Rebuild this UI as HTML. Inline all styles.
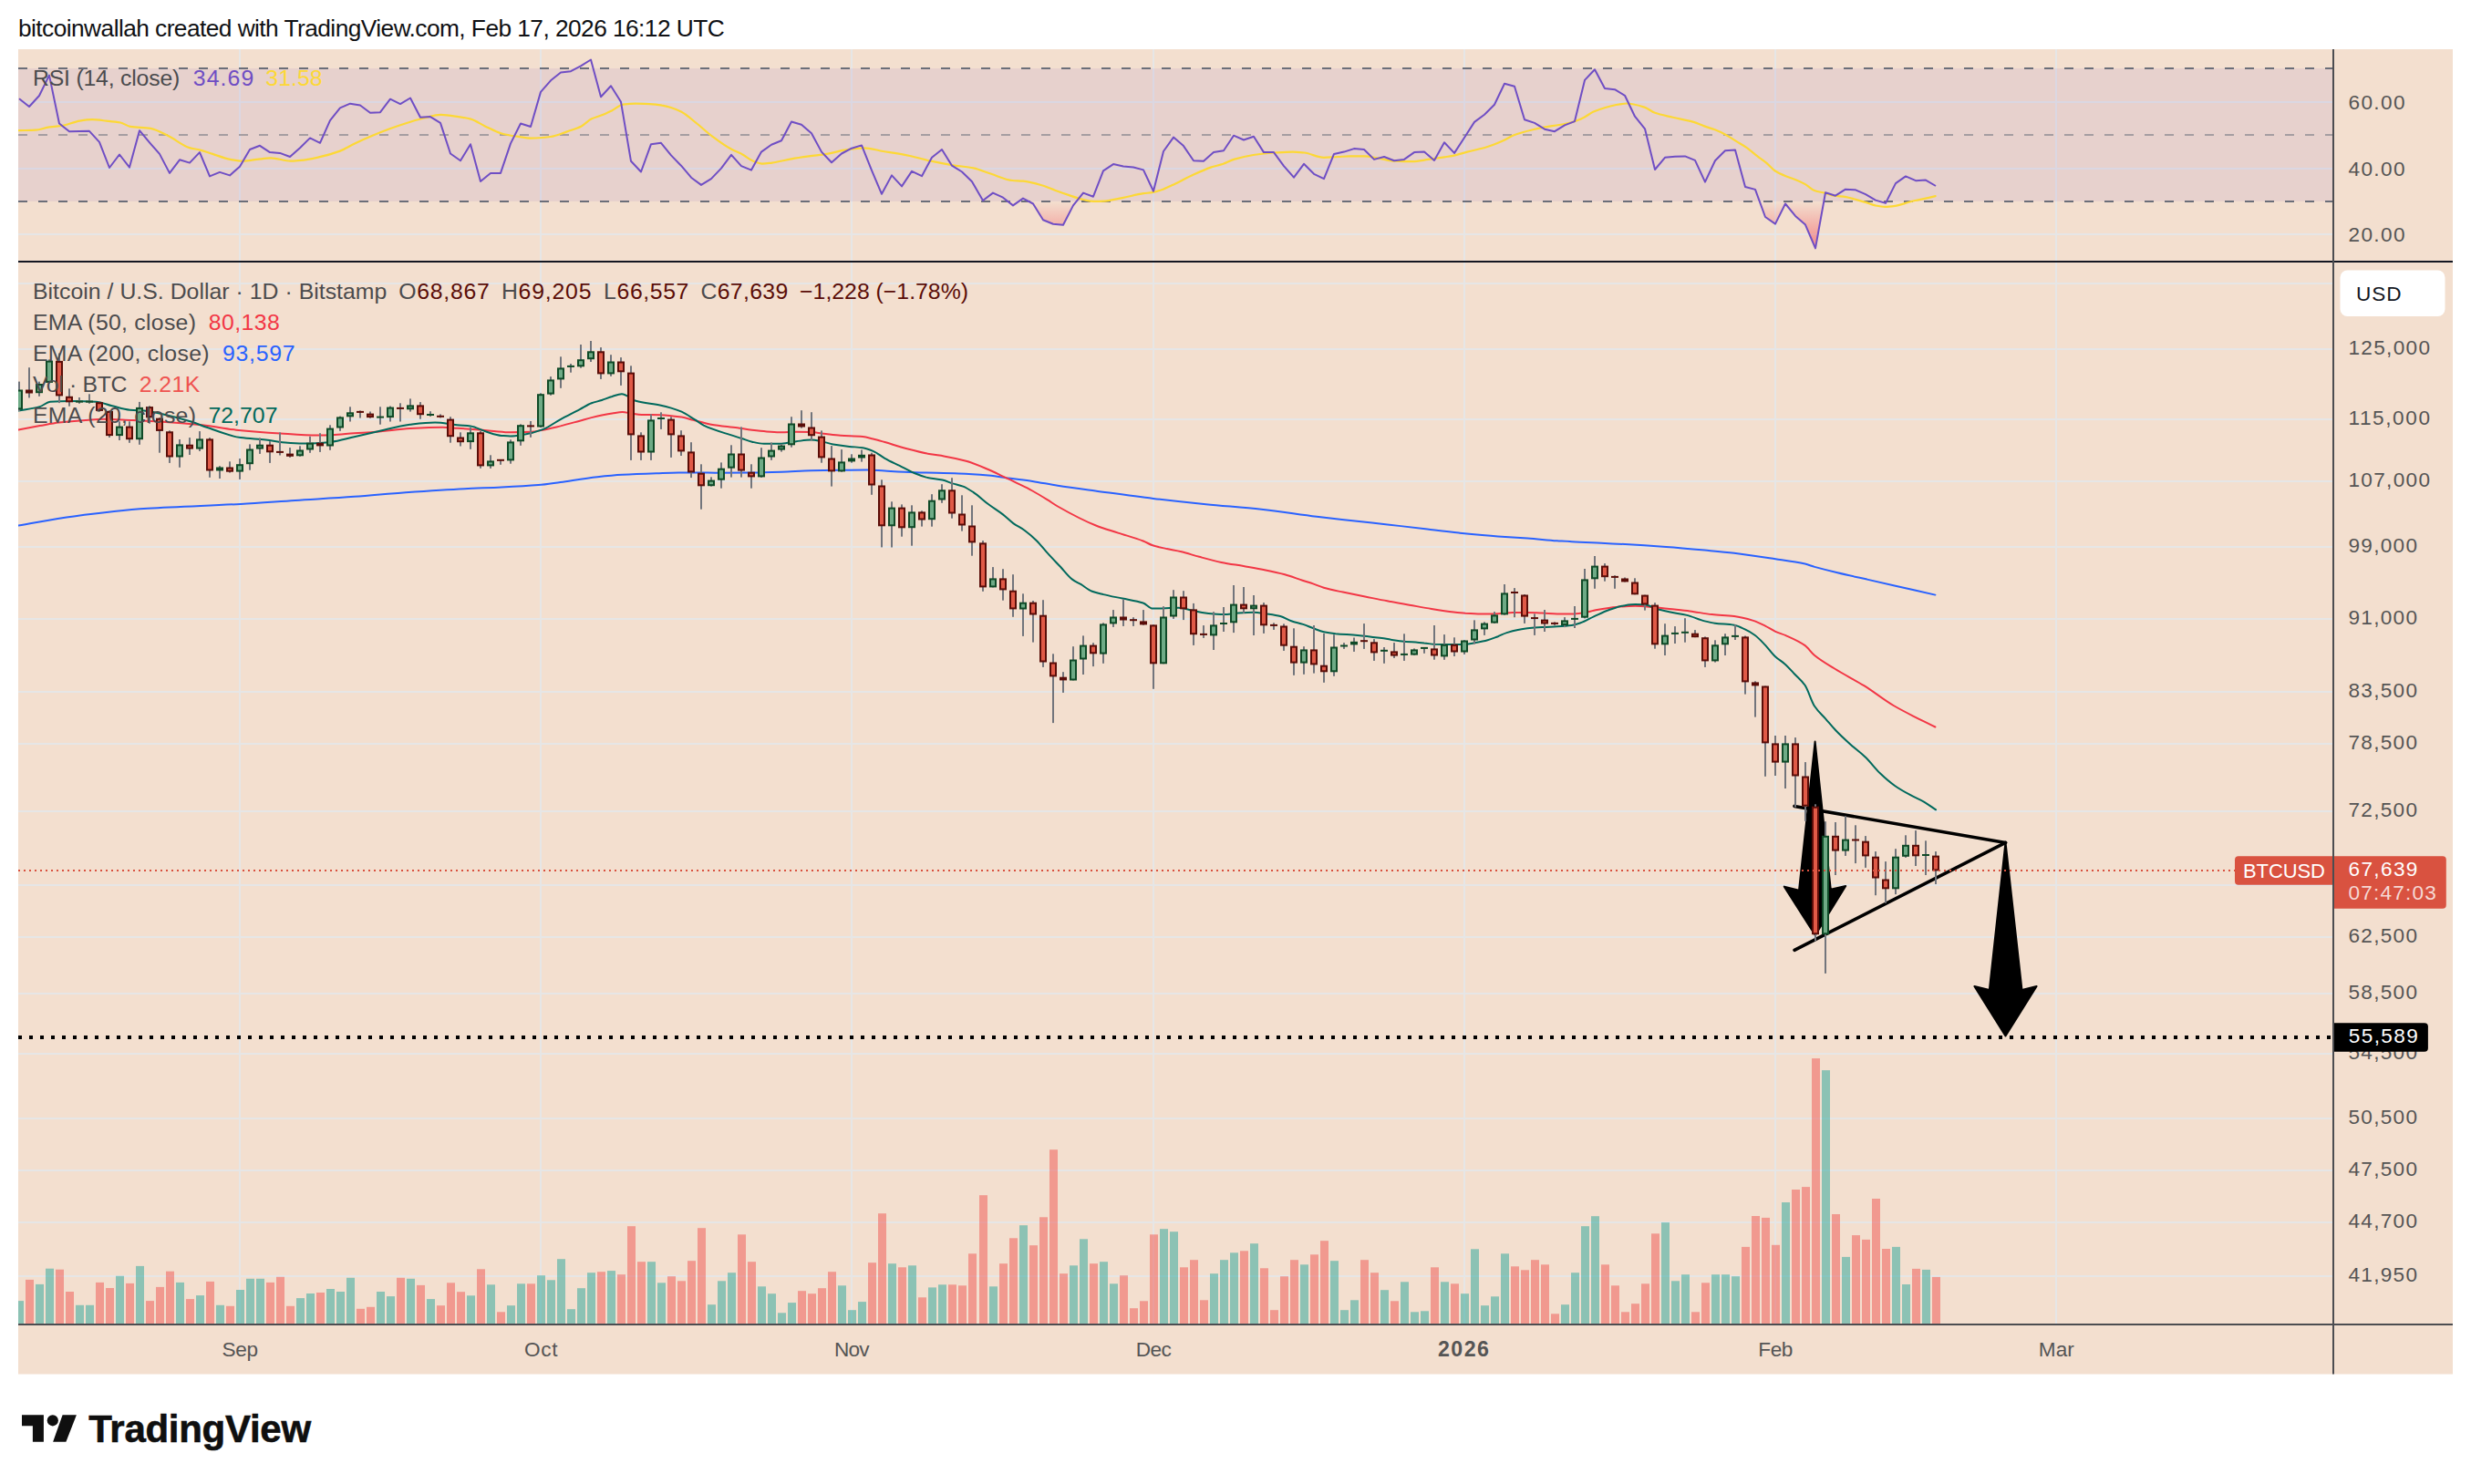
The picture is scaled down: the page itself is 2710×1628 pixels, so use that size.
<!DOCTYPE html>
<html><head><meta charset="utf-8"><title>BTCUSD chart</title><style>html,body{margin:0;padding:0;background:#fff;overflow:hidden}svg{display:block}</style></head><body>
<svg width="2710" height="1628" viewBox="0 0 2710 1628" font-family="'Liberation Sans', Arial, sans-serif">
<rect x="0" y="0" width="2710" height="1628" fill="#ffffff"/>
<rect x="20" y="54" width="2670" height="1453.5" fill="#f3dfcf"/>
<defs><clipPath id="cp"><rect x="20" y="288" width="2538" height="1164"/></clipPath><clipPath id="cpr"><rect x="20" y="54" width="2538" height="232"/></clipPath><linearGradient id="os" x1="0" y1="220.7" x2="0" y2="262" gradientUnits="userSpaceOnUse"><stop offset="0" stop-color="#f23645" stop-opacity="0"/><stop offset="1" stop-color="#f23645" stop-opacity="0.42"/></linearGradient></defs>
<g fill="#e6e6e6"><rect x="262" y="54" width="2" height="1398"/><rect x="592" y="54" width="2" height="1398"/><rect x="933" y="54" width="2" height="1398"/><rect x="1264" y="54" width="2" height="1398"/><rect x="1605" y="54" width="2" height="1398"/><rect x="1946" y="54" width="2" height="1398"/><rect x="2254" y="54" width="2" height="1398"/><rect x="20" y="111" width="2538" height="2"/><rect x="20" y="184" width="2538" height="2"/><rect x="20" y="256" width="2538" height="2"/><rect x="20" y="310" width="2538" height="2"/><rect x="20" y="382" width="2538" height="2"/><rect x="20" y="459" width="2538" height="2"/><rect x="20" y="527" width="2538" height="2"/><rect x="20" y="599" width="2538" height="2"/><rect x="20" y="678" width="2538" height="2"/><rect x="20" y="758" width="2538" height="2"/><rect x="20" y="815" width="2538" height="2"/><rect x="20" y="889" width="2538" height="2"/><rect x="20" y="970" width="2538" height="2"/><rect x="20" y="1027" width="2538" height="2"/><rect x="20" y="1089" width="2538" height="2"/><rect x="20" y="1155" width="2538" height="2"/><rect x="20" y="1226" width="2538" height="2"/><rect x="20" y="1283" width="2538" height="2"/><rect x="20" y="1340" width="2538" height="2"/><rect x="20" y="1399" width="2538" height="2"/></g>
<rect x="20" y="75" width="2538" height="146" fill="#7e57c2" fill-opacity="0.1"/>
<line x1="20" y1="75" x2="2558" y2="75" stroke="#6b6e79" stroke-width="2" stroke-dasharray="10 12"/>
<line x1="20" y1="148" x2="2558" y2="148" stroke="#a59da1" stroke-width="2" stroke-dasharray="10 12"/>
<line x1="20" y1="221" x2="2558" y2="221" stroke="#6b6e79" stroke-width="2" stroke-dasharray="10 12"/>
<g clip-path="url(#cpr)"><clipPath id="below"><rect x="20" y="220.7" width="2600" height="70"/></clipPath><path d="M21,108.3 L32,117.0 L43,105.0 L54,82.6 L65,135.5 L76,144.2 L87,144.0 L98,143.8 L109,155.9 L120,184.0 L131,169.5 L142,183.6 L153,143.2 L164,156.3 L175,168.9 L186,189.9 L197,175.3 L208,178.6 L219,167.1 L230,193.4 L241,188.9 L252,192.4 L263,182.7 L274,164.0 L285,159.8 L296,167.1 L307,167.9 L318,172.0 L329,162.3 L340,151.4 L351,156.8 L362,132.2 L373,118.4 L384,113.7 L395,115.5 L406,123.8 L417,123.2 L428,108.7 L439,114.1 L450,107.5 L461,128.7 L472,128.1 L483,134.9 L494,168.5 L505,176.3 L516,158.2 L527,199.0 L538,189.9 L549,189.9 L560,157.4 L571,135.5 L582,139.0 L593,100.9 L604,88.3 L615,79.5 L626,78.2 L637,72.3 L648,65.5 L659,106.3 L670,94.3 L681,111.8 L692,176.8 L703,188.5 L714,158.2 L725,156.8 L736,170.4 L747,181.7 L758,194.7 L769,202.9 L780,196.1 L791,184.6 L802,169.9 L813,182.1 L824,186.6 L835,166.6 L846,158.8 L857,154.3 L868,133.5 L879,136.8 L890,146.2 L901,166.6 L912,178.2 L923,168.5 L934,162.7 L945,159.4 L956,186.9 L967,212.8 L978,192.4 L989,204.4 L1000,187.9 L1011,193.2 L1022,172.8 L1033,164.0 L1044,181.7 L1055,188.5 L1066,199.2 L1078,220.0 L1089,211.6 L1100,216.7 L1111,225.4 L1122,217.6 L1133,223.5 L1144,241.3 L1155,245.8 L1166,246.8 L1177,225.4 L1188,211.6 L1199,215.7 L1210,187.3 L1221,180.1 L1232,182.5 L1243,183.5 L1254,186.4 L1265,209.7 L1276,166.0 L1287,150.6 L1298,160.1 L1309,176.3 L1320,176.8 L1331,167.1 L1342,165.2 L1353,148.7 L1364,153.5 L1375,149.7 L1386,167.1 L1397,167.1 L1408,182.1 L1419,194.7 L1430,179.8 L1441,190.8 L1452,196.1 L1463,168.9 L1474,166.6 L1485,163.1 L1496,164.0 L1507,174.9 L1518,172.0 L1529,176.3 L1540,174.9 L1551,167.1 L1562,166.6 L1573,175.9 L1584,156.3 L1595,167.9 L1606,151.0 L1617,133.9 L1628,125.8 L1639,114.7 L1650,91.8 L1661,94.7 L1672,131.2 L1683,134.9 L1694,141.7 L1705,144.2 L1716,137.4 L1727,133.1 L1738,87.9 L1749,76.2 L1760,97.0 L1771,98.2 L1782,104.8 L1793,127.7 L1804,141.3 L1815,186.0 L1826,172.8 L1837,171.8 L1848,171.4 L1859,175.9 L1870,199.6 L1881,176.3 L1892,165.2 L1903,164.6 L1914,205.0 L1925,207.9 L1936,238.0 L1947,245.6 L1958,223.5 L1969,236.9 L1980,246.6 L1991,272.4 L2002,211.2 L2013,214.7 L2024,207.7 L2035,208.3 L2046,213.2 L2057,219.6 L2068,222.9 L2079,201.1 L2090,193.4 L2101,198.2 L2112,197.6 L2123,204.0 L2123,220.7 L21,220.7 Z" fill="url(#os)" clip-path="url(#below)"/>
<path d="M20.4,143.2 C26.5,143.0 32.7,143.0 38.9,142.7 C44.0,142.4 49.2,140.1 54.4,139.4 C58.9,138.7 63.5,138.6 68.0,138.0 C74.5,137.1 80.9,133.5 87.4,132.6 C91.9,131.9 96.5,131.2 101.0,131.2 C106.2,131.2 111.4,132.0 116.6,132.6 C121.7,133.1 126.9,133.5 132.1,134.5 C135.7,135.2 139.2,138.2 142.8,138.8 C150.2,140.0 157.7,139.7 165.1,140.9 C171.6,141.9 178.1,146.0 184.5,149.1 C192.3,152.8 200.1,159.8 207.9,162.1 C211.7,163.2 215.6,163.6 219.5,164.6 C224.0,165.8 228.6,167.5 233.1,168.9 C239.6,170.9 246.1,173.8 252.5,174.9 C257.1,175.7 261.6,176.7 266.1,176.7 C271.3,176.7 276.5,175.5 281.7,174.9 C286.8,174.4 292.0,173.4 297.2,173.4 C304.3,173.4 311.5,176.7 318.6,176.7 C322.5,176.7 326.3,176.2 330.2,175.9 C336.7,175.3 343.2,173.8 349.7,172.4 C357.4,170.7 365.2,168.5 373.0,165.6 C378.1,163.6 383.3,160.3 388.5,157.8 C395.0,154.7 401.5,151.8 407.9,149.1 C414.4,146.3 420.9,143.7 427.4,141.3 C435.1,138.5 442.9,135.9 450.7,133.5 C455.8,132.0 461.0,130.5 466.2,129.3 C471.9,127.9 477.6,125.8 483.3,125.8 C489.8,125.8 496.3,127.1 502.7,128.1 C507.3,128.8 511.8,129.4 516.3,130.6 C521.5,132.0 526.7,135.9 531.9,138.4 C537.7,141.1 543.5,144.5 549.4,146.2 C555.2,147.8 561.0,148.8 566.8,149.7 C572.0,150.4 577.2,151.6 582.4,151.6 C589.5,151.6 596.6,150.9 603.7,150.0 C609.6,149.3 615.4,146.6 621.2,144.6 C626.7,142.7 632.2,141.2 637.7,138.4 C641.3,136.6 644.9,132.4 648.4,130.6 C652.3,128.7 656.2,127.9 660.1,126.3 C663.6,124.9 667.2,123.2 670.8,121.5 C675.0,119.4 679.2,115.2 683.4,114.7 C687.9,114.1 692.5,113.7 697.0,113.7 C702.2,113.7 707.3,113.9 712.5,114.1 C717.1,114.3 721.6,114.9 726.1,115.7 C729.4,116.2 732.6,117.0 735.8,118.0 C739.7,119.2 743.6,120.8 747.5,122.8 C752.7,125.6 757.9,130.4 763.0,134.5 C768.9,139.1 774.7,144.7 780.5,149.1 C787.6,154.4 794.8,159.9 801.9,163.6 C805.8,165.7 809.7,166.8 813.5,168.9 C817.4,170.9 821.3,174.7 825.2,176.3 C828.8,177.7 832.3,179.6 835.9,179.6 C839.4,179.6 843.0,179.0 846.6,178.6 C853.7,177.7 860.8,175.5 867.9,174.3 C874.4,173.2 880.9,172.3 887.4,171.4 C893.8,170.5 900.3,169.9 906.8,168.9 C913.3,167.8 919.7,165.6 926.2,164.6 C933.2,163.6 940.2,162.3 947.2,162.3 C954.3,162.3 961.4,164.7 968.6,166.0 C978.3,167.6 988.0,169.0 997.7,171.0 C1005.5,172.6 1013.2,175.0 1021.0,176.7 C1028.8,178.3 1036.6,179.9 1044.3,181.1 C1052.1,182.4 1059.9,182.9 1067.6,184.4 C1074.1,185.7 1080.6,188.8 1087.1,190.8 C1094.8,193.3 1102.6,197.4 1110.4,198.0 C1114.3,198.3 1118.1,198.3 1122.0,198.6 C1129.1,199.2 1136.3,201.4 1143.4,203.5 C1147.9,204.8 1152.5,207.0 1157.0,208.7 C1162.2,210.6 1167.3,212.4 1172.5,214.1 C1177.7,215.9 1182.9,217.9 1188.1,219.0 C1192.0,219.8 1195.8,220.9 1199.7,220.9 C1203.6,220.9 1207.5,220.8 1211.4,220.6 C1217.9,220.2 1224.3,218.3 1230.8,217.1 C1238.6,215.6 1246.3,213.4 1254.1,212.2 C1257.7,211.7 1261.2,211.5 1264.8,210.8 C1268.4,210.2 1271.9,209.0 1275.5,207.7 C1280.0,206.1 1284.5,203.7 1289.1,201.5 C1295.6,198.4 1302.0,194.8 1308.5,191.8 C1315.0,188.8 1321.5,185.8 1327.9,183.6 C1332.5,182.1 1337.0,181.3 1341.5,179.8 C1345.4,178.4 1349.3,176.1 1353.2,174.9 C1360.3,172.7 1367.4,171.2 1374.6,170.0 C1378.4,169.4 1382.3,168.9 1386.2,168.5 C1390.0,168.1 1393.7,167.8 1397.5,167.5 C1404.3,167.1 1411.1,166.6 1417.9,166.6 C1422.1,166.6 1426.3,167.1 1430.5,167.5 C1437.6,168.3 1444.8,172.8 1451.9,172.8 C1457.1,172.8 1462.2,172.2 1467.4,172.0 C1471.9,171.8 1476.5,171.4 1481.0,171.4 C1486.2,171.4 1491.4,171.4 1496.6,171.4 C1501.7,171.4 1506.9,172.9 1512.1,173.7 C1517.9,174.7 1523.7,176.4 1529.6,176.7 C1536.1,177.0 1542.5,177.2 1549.0,177.2 C1554.8,177.2 1560.7,175.7 1566.5,174.9 C1572.3,174.1 1578.1,173.3 1584.0,172.4 C1587.2,171.9 1590.4,171.5 1593.7,170.8 C1598.9,169.8 1604.0,167.9 1609.2,166.6 C1616.3,164.7 1623.5,163.5 1630.6,161.3 C1636.4,159.5 1642.2,157.1 1648.1,154.5 C1652.0,152.8 1655.8,150.0 1659.7,148.5 C1666.8,145.8 1674.0,144.0 1681.1,142.3 C1685.6,141.2 1690.2,140.2 1694.7,139.4 C1699.9,138.4 1705.1,138.0 1710.2,137.0 C1715.4,136.1 1720.6,135.1 1725.8,133.5 C1729.7,132.4 1733.5,130.6 1737.4,128.7 C1740.7,127.1 1743.9,124.3 1747.1,122.8 C1751.7,120.8 1756.2,119.3 1760.7,118.0 C1764.0,117.0 1767.2,116.1 1770.4,115.5 C1775.0,114.6 1779.5,113.5 1784.0,113.5 C1790.5,113.5 1797.0,115.6 1803.5,117.6 C1807.4,118.8 1811.2,122.5 1815.1,123.8 C1821.6,126.1 1828.1,127.1 1834.6,128.7 C1842.2,130.5 1849.8,131.7 1857.5,133.9 C1861.4,135.1 1865.3,137.0 1869.1,138.4 C1873.0,139.8 1876.9,140.8 1880.8,142.3 C1884.7,143.8 1888.6,145.6 1892.4,147.7 C1896.3,149.8 1900.2,152.5 1904.1,154.9 C1908.0,157.3 1911.9,159.4 1915.8,162.1 C1919.6,164.8 1923.5,168.4 1927.4,171.4 C1930.7,173.9 1933.9,175.9 1937.1,178.6 C1940.4,181.3 1943.6,185.5 1946.8,187.5 C1950.7,190.0 1954.6,191.6 1958.5,193.2 C1961.7,194.5 1965.0,195.4 1968.2,196.7 C1972.1,198.2 1976.0,200.0 1979.9,202.1 C1983.4,204.1 1987.0,208.1 1990.5,209.3 C1994.1,210.5 1997.7,210.7 2001.2,211.6 C2004.5,212.5 2007.7,214.2 2010.9,214.7 C2015.5,215.4 2020.0,215.4 2024.5,216.1 C2027.8,216.6 2031.0,217.7 2034.3,218.6 C2038.1,219.7 2042.0,220.7 2045.9,221.9 C2049.5,223.0 2053.0,224.8 2056.6,225.4 C2060.2,226.1 2063.7,226.8 2067.3,226.8 C2071.2,226.8 2075.0,226.3 2078.9,225.8 C2082.5,225.3 2086.1,223.9 2089.6,222.9 C2093.2,221.9 2096.7,220.8 2100.3,220.0 C2104.2,219.1 2108.1,218.5 2112.0,217.6 C2115.5,216.9 2119.1,216.0 2122.6,215.1" fill="none" stroke="#fdd835" stroke-width="2.2" stroke-linejoin="round" stroke-linecap="round"/>
<path d="M21,108.3 L32,117.0 L43,105.0 L54,82.6 L65,135.5 L76,144.2 L87,144.0 L98,143.8 L109,155.9 L120,184.0 L131,169.5 L142,183.6 L153,143.2 L164,156.3 L175,168.9 L186,189.9 L197,175.3 L208,178.6 L219,167.1 L230,193.4 L241,188.9 L252,192.4 L263,182.7 L274,164.0 L285,159.8 L296,167.1 L307,167.9 L318,172.0 L329,162.3 L340,151.4 L351,156.8 L362,132.2 L373,118.4 L384,113.7 L395,115.5 L406,123.8 L417,123.2 L428,108.7 L439,114.1 L450,107.5 L461,128.7 L472,128.1 L483,134.9 L494,168.5 L505,176.3 L516,158.2 L527,199.0 L538,189.9 L549,189.9 L560,157.4 L571,135.5 L582,139.0 L593,100.9 L604,88.3 L615,79.5 L626,78.2 L637,72.3 L648,65.5 L659,106.3 L670,94.3 L681,111.8 L692,176.8 L703,188.5 L714,158.2 L725,156.8 L736,170.4 L747,181.7 L758,194.7 L769,202.9 L780,196.1 L791,184.6 L802,169.9 L813,182.1 L824,186.6 L835,166.6 L846,158.8 L857,154.3 L868,133.5 L879,136.8 L890,146.2 L901,166.6 L912,178.2 L923,168.5 L934,162.7 L945,159.4 L956,186.9 L967,212.8 L978,192.4 L989,204.4 L1000,187.9 L1011,193.2 L1022,172.8 L1033,164.0 L1044,181.7 L1055,188.5 L1066,199.2 L1078,220.0 L1089,211.6 L1100,216.7 L1111,225.4 L1122,217.6 L1133,223.5 L1144,241.3 L1155,245.8 L1166,246.8 L1177,225.4 L1188,211.6 L1199,215.7 L1210,187.3 L1221,180.1 L1232,182.5 L1243,183.5 L1254,186.4 L1265,209.7 L1276,166.0 L1287,150.6 L1298,160.1 L1309,176.3 L1320,176.8 L1331,167.1 L1342,165.2 L1353,148.7 L1364,153.5 L1375,149.7 L1386,167.1 L1397,167.1 L1408,182.1 L1419,194.7 L1430,179.8 L1441,190.8 L1452,196.1 L1463,168.9 L1474,166.6 L1485,163.1 L1496,164.0 L1507,174.9 L1518,172.0 L1529,176.3 L1540,174.9 L1551,167.1 L1562,166.6 L1573,175.9 L1584,156.3 L1595,167.9 L1606,151.0 L1617,133.9 L1628,125.8 L1639,114.7 L1650,91.8 L1661,94.7 L1672,131.2 L1683,134.9 L1694,141.7 L1705,144.2 L1716,137.4 L1727,133.1 L1738,87.9 L1749,76.2 L1760,97.0 L1771,98.2 L1782,104.8 L1793,127.7 L1804,141.3 L1815,186.0 L1826,172.8 L1837,171.8 L1848,171.4 L1859,175.9 L1870,199.6 L1881,176.3 L1892,165.2 L1903,164.6 L1914,205.0 L1925,207.9 L1936,238.0 L1947,245.6 L1958,223.5 L1969,236.9 L1980,246.6 L1991,272.4 L2002,211.2 L2013,214.7 L2024,207.7 L2035,208.3 L2046,213.2 L2057,219.6 L2068,222.9 L2079,201.1 L2090,193.4 L2101,198.2 L2112,197.6 L2123,204.0" fill="none" stroke="#6f4ec4" stroke-width="2" stroke-linejoin="round"/></g>
<g clip-path="url(#cp)">
<g fill="#26a69a" fill-opacity="0.5"><rect x="17" y="1427.1" width="9" height="24.9"/><rect x="39" y="1408.9" width="9" height="43.1"/><rect x="50" y="1391.7" width="9" height="60.3"/><rect x="83" y="1431.8" width="9" height="20.2"/><rect x="94" y="1431.8" width="9" height="20.2"/><rect x="127" y="1399.8" width="9" height="52.2"/><rect x="149" y="1388.9" width="9" height="63.1"/><rect x="193" y="1406.9" width="9" height="45.1"/><rect x="215" y="1421.1" width="9" height="30.9"/><rect x="237" y="1431.8" width="9" height="20.2"/><rect x="259" y="1415.0" width="9" height="37.0"/><rect x="270" y="1402.8" width="9" height="49.2"/><rect x="281" y="1402.8" width="9" height="49.2"/><rect x="325" y="1424.1" width="9" height="27.9"/><rect x="336" y="1419.0" width="9" height="33.0"/><rect x="358" y="1414.0" width="9" height="38.0"/><rect x="369" y="1417.0" width="9" height="35.0"/><rect x="380" y="1401.8" width="9" height="50.2"/><rect x="413" y="1417.0" width="9" height="35.0"/><rect x="424" y="1422.1" width="9" height="29.9"/><rect x="446" y="1402.8" width="9" height="49.2"/><rect x="468" y="1425.1" width="9" height="26.9"/><rect x="512" y="1421.3" width="9" height="30.7"/><rect x="534" y="1409.3" width="9" height="42.7"/><rect x="556" y="1432.2" width="9" height="19.8"/><rect x="567" y="1408.3" width="9" height="43.7"/><rect x="589" y="1399.2" width="9" height="52.8"/><rect x="600" y="1404.3" width="9" height="47.7"/><rect x="611" y="1381.2" width="9" height="70.8"/><rect x="622" y="1436.2" width="9" height="15.8"/><rect x="633" y="1413.2" width="9" height="38.8"/><rect x="644" y="1396.2" width="9" height="55.8"/><rect x="666" y="1394.1" width="9" height="57.9"/><rect x="710" y="1384.2" width="9" height="67.8"/><rect x="721" y="1407.3" width="9" height="44.7"/><rect x="776" y="1431.2" width="9" height="20.8"/><rect x="787" y="1405.3" width="9" height="46.7"/><rect x="798" y="1396.2" width="9" height="55.8"/><rect x="831" y="1411.3" width="9" height="40.7"/><rect x="842" y="1419.2" width="9" height="32.8"/><rect x="853" y="1440.3" width="9" height="11.7"/><rect x="864" y="1429.1" width="9" height="22.9"/><rect x="919" y="1410.3" width="9" height="41.7"/><rect x="930" y="1437.2" width="9" height="14.8"/><rect x="941" y="1428.1" width="9" height="23.9"/><rect x="974" y="1386.2" width="9" height="65.8"/><rect x="996" y="1388.3" width="9" height="63.7"/><rect x="1018" y="1412.4" width="9" height="39.6"/><rect x="1029" y="1409.3" width="9" height="42.7"/><rect x="1085" y="1411.3" width="9" height="40.7"/><rect x="1118" y="1344.2" width="9" height="107.8"/><rect x="1173" y="1388.3" width="9" height="63.7"/><rect x="1184" y="1359.3" width="9" height="92.7"/><rect x="1206" y="1384.2" width="9" height="67.8"/><rect x="1217" y="1408.3" width="9" height="43.7"/><rect x="1272" y="1348.2" width="9" height="103.8"/><rect x="1283" y="1351.2" width="9" height="100.8"/><rect x="1327" y="1397.2" width="9" height="54.8"/><rect x="1338" y="1382.2" width="9" height="69.8"/><rect x="1349" y="1374.3" width="9" height="77.7"/><rect x="1371" y="1364.2" width="9" height="87.8"/><rect x="1426" y="1387.3" width="9" height="64.7"/><rect x="1459" y="1383.2" width="9" height="68.8"/><rect x="1470" y="1437.2" width="9" height="14.8"/><rect x="1481" y="1426.3" width="9" height="25.7"/><rect x="1514" y="1415.2" width="9" height="36.8"/><rect x="1536" y="1406.3" width="9" height="45.7"/><rect x="1547" y="1439.3" width="9" height="12.7"/><rect x="1558" y="1438.3" width="9" height="13.7"/><rect x="1580" y="1406.3" width="9" height="45.7"/><rect x="1602" y="1419.2" width="9" height="32.8"/><rect x="1613" y="1370.3" width="9" height="81.7"/><rect x="1624" y="1432.2" width="9" height="19.8"/><rect x="1635" y="1422.3" width="9" height="29.7"/><rect x="1646" y="1375.3" width="9" height="76.7"/><rect x="1712" y="1431.2" width="9" height="20.8"/><rect x="1723" y="1396.2" width="9" height="55.8"/><rect x="1734" y="1345.2" width="9" height="106.8"/><rect x="1745" y="1334.2" width="9" height="117.8"/><rect x="1822" y="1341.1" width="9" height="110.9"/><rect x="1833" y="1405.3" width="9" height="46.7"/><rect x="1844" y="1398.2" width="9" height="53.8"/><rect x="1877" y="1398.2" width="9" height="53.8"/><rect x="1888" y="1398.2" width="9" height="53.8"/><rect x="1899" y="1400.2" width="9" height="51.8"/><rect x="1954" y="1319.0" width="9" height="133.0"/><rect x="1998" y="1174.1" width="9" height="277.9"/><rect x="2020" y="1378.9" width="9" height="73.1"/><rect x="2075" y="1367.9" width="9" height="84.1"/><rect x="2086" y="1409.0" width="9" height="43.0"/><rect x="2108" y="1392.9" width="9" height="59.1"/></g>
<g fill="#ef5350" fill-opacity="0.5"><rect x="28" y="1403.9" width="9" height="48.1"/><rect x="61" y="1392.7" width="9" height="59.3"/><rect x="72" y="1417.0" width="9" height="35.0"/><rect x="105" y="1406.9" width="9" height="45.1"/><rect x="116" y="1413.0" width="9" height="39.0"/><rect x="138" y="1407.9" width="9" height="44.1"/><rect x="160" y="1427.1" width="9" height="24.9"/><rect x="171" y="1411.9" width="9" height="40.1"/><rect x="182" y="1394.7" width="9" height="57.3"/><rect x="204" y="1425.1" width="9" height="26.9"/><rect x="226" y="1405.9" width="9" height="46.1"/><rect x="248" y="1432.8" width="9" height="19.2"/><rect x="292" y="1406.9" width="9" height="45.1"/><rect x="303" y="1400.8" width="9" height="51.2"/><rect x="314" y="1432.8" width="9" height="19.2"/><rect x="347" y="1418.0" width="9" height="34.0"/><rect x="391" y="1435.8" width="9" height="16.2"/><rect x="402" y="1433.8" width="9" height="18.2"/><rect x="435" y="1401.8" width="9" height="50.2"/><rect x="457" y="1409.9" width="9" height="42.1"/><rect x="479" y="1432.2" width="9" height="19.8"/><rect x="490" y="1407.3" width="9" height="44.7"/><rect x="501" y="1417.2" width="9" height="34.8"/><rect x="523" y="1392.3" width="9" height="59.7"/><rect x="545" y="1439.3" width="9" height="12.7"/><rect x="578" y="1408.3" width="9" height="43.7"/><rect x="655" y="1395.2" width="9" height="56.8"/><rect x="677" y="1398.2" width="9" height="53.8"/><rect x="688" y="1345.2" width="9" height="106.8"/><rect x="699" y="1384.2" width="9" height="67.8"/><rect x="732" y="1400.2" width="9" height="51.8"/><rect x="743" y="1405.3" width="9" height="46.7"/><rect x="754" y="1383.2" width="9" height="68.8"/><rect x="765" y="1347.2" width="9" height="104.8"/><rect x="809" y="1354.3" width="9" height="97.7"/><rect x="820" y="1384.2" width="9" height="67.8"/><rect x="875" y="1416.2" width="9" height="35.8"/><rect x="886" y="1419.2" width="9" height="32.8"/><rect x="897" y="1413.2" width="9" height="38.8"/><rect x="908" y="1395.2" width="9" height="56.8"/><rect x="952" y="1385.2" width="9" height="66.8"/><rect x="963" y="1331.2" width="9" height="120.8"/><rect x="985" y="1390.3" width="9" height="61.7"/><rect x="1007" y="1423.3" width="9" height="28.7"/><rect x="1040" y="1409.3" width="9" height="42.7"/><rect x="1051" y="1410.3" width="9" height="41.7"/><rect x="1062" y="1375.3" width="9" height="76.7"/><rect x="1074" y="1311.2" width="9" height="140.8"/><rect x="1096" y="1386.2" width="9" height="65.8"/><rect x="1107" y="1358.3" width="9" height="93.7"/><rect x="1129" y="1366.2" width="9" height="85.8"/><rect x="1140" y="1335.3" width="9" height="116.7"/><rect x="1151" y="1261.2" width="9" height="190.8"/><rect x="1162" y="1397.2" width="9" height="54.8"/><rect x="1195" y="1386.2" width="9" height="65.8"/><rect x="1228" y="1399.2" width="9" height="52.8"/><rect x="1239" y="1435.2" width="9" height="16.8"/><rect x="1250" y="1427.3" width="9" height="24.7"/><rect x="1261" y="1354.3" width="9" height="97.7"/><rect x="1294" y="1390.3" width="9" height="61.7"/><rect x="1305" y="1382.2" width="9" height="69.8"/><rect x="1316" y="1426.3" width="9" height="25.7"/><rect x="1360" y="1372.3" width="9" height="79.7"/><rect x="1382" y="1391.3" width="9" height="60.7"/><rect x="1393" y="1437.2" width="9" height="14.8"/><rect x="1404" y="1400.2" width="9" height="51.8"/><rect x="1415" y="1382.2" width="9" height="69.8"/><rect x="1437" y="1376.3" width="9" height="75.7"/><rect x="1448" y="1361.2" width="9" height="90.8"/><rect x="1492" y="1382.2" width="9" height="69.8"/><rect x="1503" y="1396.2" width="9" height="55.8"/><rect x="1525" y="1427.3" width="9" height="24.7"/><rect x="1569" y="1390.3" width="9" height="61.7"/><rect x="1591" y="1408.3" width="9" height="43.7"/><rect x="1657" y="1389.3" width="9" height="62.7"/><rect x="1668" y="1393.3" width="9" height="58.7"/><rect x="1679" y="1382.2" width="9" height="69.8"/><rect x="1690" y="1387.3" width="9" height="64.7"/><rect x="1701" y="1441.3" width="9" height="10.7"/><rect x="1756" y="1387.3" width="9" height="64.7"/><rect x="1767" y="1410.3" width="9" height="41.7"/><rect x="1778" y="1439.3" width="9" height="12.7"/><rect x="1789" y="1430.2" width="9" height="21.8"/><rect x="1800" y="1408.3" width="9" height="43.7"/><rect x="1811" y="1353.3" width="9" height="98.7"/><rect x="1855" y="1439.3" width="9" height="12.7"/><rect x="1866" y="1407.3" width="9" height="44.7"/><rect x="1910" y="1367.9" width="9" height="84.1"/><rect x="1921" y="1334.0" width="9" height="118.0"/><rect x="1932" y="1335.9" width="9" height="116.1"/><rect x="1943" y="1365.8" width="9" height="86.2"/><rect x="1965" y="1305.0" width="9" height="147.0"/><rect x="1976" y="1302.1" width="9" height="149.9"/><rect x="1987" y="1161.1" width="9" height="290.9"/><rect x="2009" y="1332.0" width="9" height="120.0"/><rect x="2031" y="1355.1" width="9" height="96.9"/><rect x="2042" y="1359.9" width="9" height="92.1"/><rect x="2053" y="1315.0" width="9" height="137.0"/><rect x="2064" y="1370.0" width="9" height="82.0"/><rect x="2097" y="1391.9" width="9" height="60.1"/><rect x="2119" y="1400.9" width="9" height="51.1"/></g>
<path d="M20.2,576.4 C40.5,573.0 60.7,569.0 80.9,566.4 C107.9,562.8 134.9,559.6 161.9,557.8 C195.9,555.5 229.9,554.8 263.9,552.9 C283.8,551.8 303.8,550.2 323.8,548.9 C345.3,547.5 366.9,546.4 388.5,544.8 C407.3,543.5 426.0,541.5 444.8,540.2 C466.3,538.7 487.9,537.2 509.5,536.2 C523.0,535.5 536.5,535.2 550.0,534.5 C563.5,533.9 577.0,533.3 590.4,532.1 C598.5,531.4 606.6,530.0 614.7,528.9 C628.2,527.0 641.7,524.6 655.2,523.2 C664.4,522.2 673.5,521.3 682.7,520.8 C695.1,520.0 707.5,519.6 719.9,519.2 C728.0,518.9 736.1,518.4 744.2,518.4 C752.3,518.4 760.4,518.4 768.5,518.4 C773.8,518.4 779.0,518.7 784.3,518.7 C797.8,518.7 811.3,518.6 824.8,518.5 C835.5,518.5 846.3,518.1 857.1,517.7 C867.9,517.4 878.7,516.5 889.5,516.3 C900.3,516.0 911.1,515.9 921.9,515.8 C931.6,515.7 941.3,515.5 951.0,515.5 C957.5,515.5 964.0,516.3 970.4,516.6 C981.2,517.2 992.0,517.9 1002.8,518.2 C1019.0,518.8 1035.2,518.8 1051.4,519.4 C1062.2,519.7 1073.0,520.5 1083.8,521.5 C1091.8,522.2 1099.9,523.6 1108.0,524.7 C1116.1,525.8 1124.2,526.7 1132.3,527.9 C1141.5,529.3 1150.8,531.4 1160.0,532.8 C1173.7,534.9 1187.4,536.6 1201.2,538.4 C1222.4,541.3 1243.7,544.4 1264.9,546.9 C1284.1,549.2 1303.4,551.3 1322.6,553.2 C1342.8,555.2 1363.1,556.5 1383.3,558.7 C1403.5,560.9 1423.8,564.3 1444.0,566.8 C1464.2,569.2 1484.5,571.2 1504.7,573.5 C1524.9,575.7 1545.2,578.2 1565.4,580.5 C1576.9,581.9 1588.5,583.4 1600.0,584.6 C1614.3,586.0 1628.5,587.4 1642.8,588.4 C1653.6,589.2 1664.4,589.7 1675.2,590.5 C1686.0,591.3 1696.8,592.5 1707.6,593.3 C1713.0,593.6 1718.4,594.0 1723.8,594.2 C1734.5,594.8 1745.3,595.2 1756.1,595.7 C1779.9,596.9 1803.7,598.3 1827.4,600.0 C1841.4,601.0 1855.5,602.3 1869.5,603.6 C1880.3,604.6 1891.1,605.5 1901.9,606.8 C1917.0,608.6 1932.1,611.0 1947.2,613.3 C1958.0,614.9 1968.8,616.2 1979.6,618.6 C1983.1,619.4 1986.6,620.9 1990.1,621.9 C1998.5,624.2 2006.8,626.3 2015.2,628.3 C2026.0,630.9 2036.8,633.2 2047.6,635.6 C2058.4,638.0 2069.2,640.4 2079.9,642.9 C2094.1,646.1 2108.2,649.4 2122.4,652.6" fill="none" stroke="#2962ff" stroke-width="2.0" stroke-linejoin="round" stroke-linecap="round"/>
<path d="M20.2,471.5 C28.1,470.0 35.9,468.5 43.7,467.1 C50.7,465.9 57.7,464.4 64.8,463.6 C75.5,462.3 86.3,461.3 97.1,460.7 C102.5,460.3 107.9,459.8 113.3,459.8 C124.1,459.8 134.9,460.7 145.7,461.1 C156.5,461.6 167.3,462.1 178.1,462.8 C192.6,463.6 207.2,464.8 221.8,466.3 C234.2,467.6 246.6,470.4 259.0,471.7 C275.2,473.3 291.4,474.5 307.6,475.5 C321.1,476.4 334.5,477.6 348.0,477.6 C353.4,477.6 358.8,477.5 364.2,477.3 C372.3,477.1 380.4,475.8 388.5,475.2 C396.5,474.7 404.4,474.4 412.4,473.8 C424.8,472.9 437.2,470.8 449.6,470.1 C461.5,469.4 473.3,468.7 485.2,468.7 C490.6,468.7 496.0,469.4 501.4,469.8 C509.5,470.3 517.6,470.8 525.7,471.4 C531.1,471.8 536.5,472.6 541.9,473.0 C547.8,473.5 553.7,474.3 559.7,474.3 C567.2,474.3 574.8,474.1 582.3,473.8 C586.7,473.7 591.0,472.5 595.3,471.7 C601.8,470.5 608.2,468.9 614.7,467.4 C621.7,465.6 628.8,463.6 635.8,461.7 C640.1,460.5 644.4,459.1 648.7,458.1 C656.3,456.4 663.8,454.8 671.4,453.6 C675.2,453.0 678.9,452.0 682.7,452.0 C685.9,452.0 689.2,453.2 692.4,453.6 C696.2,454.1 700.0,454.8 703.8,454.9 C710.8,455.1 717.8,455.0 724.8,455.2 C732.4,455.4 739.9,456.5 747.5,457.6 C751.8,458.3 756.1,459.8 760.4,460.9 C766.9,462.5 773.5,464.6 780.0,465.7 C789.5,467.4 799.0,468.0 808.6,469.3 C814.0,470.1 819.4,471.1 824.8,471.8 C830.1,472.4 835.5,473.0 840.9,473.4 C846.3,473.7 851.7,474.2 857.1,474.2 C862.5,474.2 867.9,473.7 873.3,473.7 C878.7,473.7 884.1,473.8 889.5,474.0 C894.9,474.2 900.3,475.5 905.7,476.1 C911.1,476.7 916.5,477.4 921.9,477.8 C930.0,478.3 938.1,478.3 946.2,479.0 C949.9,479.4 953.7,480.6 957.5,481.5 C961.8,482.5 966.1,483.8 970.4,485.0 C978.5,487.4 986.6,490.2 994.7,492.3 C1002.8,494.4 1010.9,496.5 1019.0,498.0 C1024.4,499.0 1029.8,499.5 1035.2,500.4 C1043.3,501.8 1051.4,503.5 1059.5,505.8 C1067.6,508.0 1075.7,511.6 1083.8,515.0 C1089.2,517.3 1094.5,520.0 1099.9,522.6 C1105.3,525.2 1110.7,527.7 1116.1,530.4 C1121.5,533.0 1126.9,535.5 1132.3,538.5 C1137.7,541.4 1143.1,544.8 1148.5,548.2 C1152.3,550.5 1156.2,553.3 1160.0,555.5 C1174.0,563.5 1187.9,571.0 1201.9,576.5 C1210.0,579.7 1218.1,581.9 1226.2,584.6 C1235.3,587.6 1244.5,589.9 1253.7,593.5 C1257.2,594.8 1260.7,597.2 1264.2,598.3 C1269.3,600.0 1274.5,600.9 1279.6,602.1 C1285.0,603.2 1290.4,604.0 1295.8,605.3 C1302.2,606.8 1308.7,609.1 1315.2,610.8 C1323.3,613.0 1331.4,615.3 1339.5,616.9 C1347.6,618.6 1355.7,619.6 1363.8,621.0 C1371.8,622.4 1379.9,623.7 1388.0,625.4 C1395.1,626.8 1402.1,628.3 1409.1,630.2 C1415.6,632.0 1422.0,634.6 1428.5,636.7 C1432.3,638.0 1436.2,639.1 1440.0,640.4 C1443.9,641.8 1447.9,643.6 1451.8,644.8 C1458.8,646.8 1465.8,648.1 1472.8,649.6 C1480.9,651.3 1489.0,652.8 1497.1,654.5 C1505.2,656.1 1513.3,657.8 1521.4,659.3 C1529.5,660.9 1537.6,662.3 1545.7,663.7 C1553.8,665.1 1561.9,666.6 1570.0,667.9 C1578.1,669.2 1586.2,670.5 1594.3,671.5 C1598.6,672.0 1602.9,672.5 1607.2,672.8 C1613.7,673.1 1620.2,673.6 1626.6,673.6 C1632.0,673.6 1637.4,673.4 1642.8,673.2 C1648.2,673.1 1653.6,671.9 1659.0,671.9 C1664.4,671.9 1669.8,671.9 1675.2,671.9 C1680.6,671.9 1686.0,672.4 1691.4,672.6 C1696.8,672.8 1702.2,673.3 1707.6,673.4 C1713.0,673.5 1718.4,673.6 1723.8,673.6 C1728.1,673.6 1732.4,672.9 1736.7,672.3 C1740.5,671.8 1744.3,670.6 1748.0,669.8 C1756.2,668.3 1764.3,666.5 1772.4,665.9 C1779.4,665.3 1786.4,664.8 1793.4,664.8 C1799.9,664.8 1806.4,665.5 1812.8,666.0 C1818.8,666.5 1824.7,667.3 1830.7,668.0 C1838.2,668.8 1845.8,669.5 1853.3,670.4 C1861.4,671.4 1869.5,673.3 1877.6,674.1 C1885.7,675.0 1893.8,675.1 1901.9,676.1 C1908.9,676.9 1915.9,678.8 1922.9,680.9 C1927.2,682.3 1931.6,684.5 1935.9,686.6 C1939.6,688.4 1943.4,691.1 1947.2,692.8 C1951.0,694.5 1954.8,695.5 1958.5,697.1 C1965.5,700.2 1972.6,703.1 1979.6,708.1 C1983.1,710.7 1986.6,716.1 1990.1,719.0 C1997.4,725.0 2004.7,729.0 2012.0,733.5 C2022.7,740.2 2033.5,745.5 2044.3,752.2 C2055.1,758.9 2065.9,767.6 2076.7,774.0 C2085.9,779.4 2095.1,783.9 2104.2,788.6 C2110.3,791.7 2116.3,794.5 2122.4,797.5" fill="none" stroke="#f23645" stroke-width="2.0" stroke-linejoin="round" stroke-linecap="round"/>
<path d="M20.2,450.5 C28.1,449.0 35.9,448.3 43.7,446.1 C47.5,445.0 51.3,441.0 55.0,440.7 C62.6,440.3 70.1,440.1 77.7,440.1 C86.9,440.1 96.0,440.3 105.2,440.7 C111.2,441.0 117.1,443.8 123.0,445.3 C129.5,446.9 136.0,449.2 142.5,449.8 C148.9,450.4 155.4,450.3 161.9,450.9 C167.3,451.4 172.7,453.0 178.1,454.2 C188.9,456.6 199.6,459.4 210.4,462.8 C215.8,464.5 221.2,466.9 226.6,468.7 C239.0,472.9 251.5,478.4 263.9,480.1 C273.0,481.3 282.2,481.5 291.4,482.5 C299.5,483.4 307.6,485.2 315.7,485.7 C322.1,486.1 328.6,486.6 335.1,486.6 C344.3,486.6 353.4,485.8 362.6,484.9 C371.2,484.1 379.9,481.2 388.5,479.3 C396.5,477.5 404.4,475.6 412.4,473.8 C424.8,471.1 437.2,467.1 449.6,465.7 C458.8,464.7 468.0,463.6 477.1,463.6 C485.2,463.6 493.3,465.5 501.4,466.2 C506.3,466.7 511.1,466.8 516.0,467.4 C521.9,468.1 527.8,472.1 533.8,473.8 C539.2,475.4 544.6,477.5 550.0,477.9 C553.2,478.1 556.4,478.4 559.7,478.4 C564.5,478.4 569.4,477.5 574.3,476.8 C581.3,475.7 588.3,473.7 595.3,471.1 C601.8,468.7 608.2,463.6 614.7,460.1 C621.7,456.3 628.8,452.9 635.8,449.2 C640.1,447.0 644.4,443.9 648.7,442.3 C652.5,440.9 656.3,440.2 660.0,439.0 C663.8,437.8 667.6,436.1 671.4,435.0 C674.9,433.9 678.4,432.2 681.9,432.2 C687.0,432.2 692.2,438.4 697.3,439.8 C706.5,442.3 715.6,442.7 724.8,444.7 C728.6,445.5 732.4,446.5 736.1,447.6 C739.9,448.7 743.7,450.0 747.5,451.7 C751.8,453.6 756.1,456.6 760.4,459.3 C764.2,461.6 768.0,464.7 771.7,466.6 C781.3,471.2 790.9,473.8 800.5,476.9 C804.8,478.4 809.1,479.6 813.4,481.0 C817.2,482.2 821.0,483.9 824.8,484.7 C829.1,485.6 833.4,486.7 837.7,486.7 C844.2,486.7 850.7,486.7 857.1,486.7 C862.5,486.7 867.9,484.9 873.3,484.2 C878.7,483.6 884.1,482.6 889.5,482.6 C893.3,482.6 897.1,483.5 900.8,484.2 C905.2,485.0 909.5,486.7 913.8,487.5 C919.7,488.5 925.7,489.3 931.6,489.9 C936.4,490.4 941.3,490.5 946.2,491.2 C949.9,491.7 953.7,493.2 957.5,494.8 C961.8,496.5 966.1,500.4 970.4,502.8 C975.8,505.9 981.2,508.2 986.6,510.9 C992.0,513.6 997.4,516.8 1002.8,519.0 C1007.1,520.8 1011.5,522.5 1015.8,523.6 C1021.7,525.0 1027.6,525.3 1033.6,526.6 C1037.4,527.5 1041.1,529.2 1044.9,530.4 C1048.7,531.5 1052.5,532.2 1056.2,533.6 C1060.0,535.0 1063.8,537.6 1067.6,540.1 C1073.0,543.6 1078.4,549.0 1083.8,553.0 C1089.2,557.1 1094.5,560.2 1099.9,564.4 C1103.7,567.3 1107.5,571.3 1111.3,574.1 C1115.6,577.2 1119.9,579.0 1124.2,582.2 C1128.5,585.3 1132.9,589.2 1137.2,593.5 C1141.0,597.3 1144.7,602.3 1148.5,606.4 C1153.3,611.8 1158.2,616.7 1163.0,621.8 C1167.3,626.4 1171.7,632.4 1176.0,635.6 C1179.2,638.0 1182.5,639.3 1185.7,641.2 C1189.7,643.7 1193.8,647.3 1197.8,648.8 C1201.9,650.3 1205.9,651.1 1210.0,652.1 C1217.0,653.8 1224.0,655.1 1231.0,656.6 C1238.6,658.2 1246.1,658.9 1253.7,661.5 C1257.2,662.6 1260.7,667.6 1264.2,667.6 C1270.4,667.6 1276.6,667.3 1282.8,667.1 C1286.1,667.0 1289.3,666.8 1292.5,666.8 C1297.4,666.8 1302.2,668.6 1307.1,669.6 C1310.9,670.3 1314.7,671.4 1318.4,672.0 C1322.7,672.7 1327.1,673.3 1331.4,673.6 C1335.2,673.8 1338.9,674.1 1342.7,674.1 C1347.0,674.1 1351.3,673.1 1355.7,672.8 C1362.1,672.3 1368.6,671.7 1375.1,671.7 C1379.4,671.7 1383.7,672.7 1388.0,673.3 C1393.4,674.1 1398.8,674.7 1404.2,676.0 C1408.2,677.0 1412.2,679.8 1416.2,681.2 C1420.5,682.7 1424.8,683.5 1429.1,684.9 C1432.9,686.1 1436.7,687.9 1440.5,689.3 C1444.2,690.7 1448.0,692.5 1451.8,693.3 C1456.1,694.2 1460.4,694.8 1464.8,695.3 C1472.8,696.0 1480.9,696.2 1489.0,696.9 C1497.1,697.6 1505.2,698.7 1513.3,699.8 C1521.4,700.9 1529.5,702.5 1537.6,703.4 C1545.7,704.2 1553.8,704.6 1561.9,705.5 C1565.7,705.8 1569.4,706.6 1573.2,706.8 C1580.2,707.0 1587.2,707.1 1594.3,707.1 C1598.6,707.1 1602.9,706.9 1607.2,706.8 C1611.0,706.6 1614.8,705.6 1618.5,705.0 C1622.9,704.2 1627.2,703.4 1631.5,702.2 C1635.3,701.2 1639.0,699.6 1642.8,698.2 C1646.1,696.9 1649.3,695.1 1652.5,694.1 C1660.1,691.9 1667.6,690.1 1675.2,689.3 C1680.6,688.7 1686.0,688.3 1691.4,688.0 C1696.8,687.7 1702.2,687.6 1707.6,687.3 C1713.0,687.0 1718.4,686.7 1723.8,686.0 C1727.0,685.6 1730.2,684.4 1733.5,683.3 C1738.3,681.6 1743.2,678.5 1748.0,676.3 C1753.5,673.9 1758.9,671.2 1764.3,669.3 C1769.7,667.4 1775.1,665.2 1780.5,664.4 C1784.8,663.8 1789.1,663.1 1793.4,663.1 C1797.2,663.1 1801.0,663.3 1804.8,663.5 C1809.1,663.7 1813.4,667.1 1817.7,668.3 C1822.0,669.5 1826.3,670.3 1830.7,671.2 C1837.1,672.6 1843.6,673.4 1850.1,674.9 C1856.6,676.5 1863.0,679.8 1869.5,681.4 C1873.3,682.3 1877.1,683.2 1880.8,683.7 C1887.8,684.7 1894.9,684.6 1901.9,685.8 C1905.7,686.4 1909.4,688.4 1913.2,690.2 C1917.0,691.9 1920.8,694.1 1924.5,696.8 C1928.3,699.5 1932.1,703.7 1935.9,707.6 C1939.6,711.6 1943.4,717.2 1947.2,720.6 C1950.4,723.5 1953.7,725.1 1956.9,727.9 C1960.7,731.1 1964.5,735.5 1968.2,739.5 C1972.0,743.5 1975.8,746.3 1979.6,751.8 C1983.1,757.0 1986.6,769.6 1990.1,774.8 C1994.1,780.9 1998.2,784.0 2002.2,788.6 C2005.9,792.8 2009.6,797.5 2013.3,801.3 C2018.7,807.0 2024.1,811.9 2029.5,816.7 C2034.9,821.6 2040.3,825.3 2045.7,830.5 C2051.1,835.6 2056.5,843.1 2061.9,848.3 C2067.3,853.5 2072.7,858.2 2078.1,862.0 C2083.5,865.8 2088.9,868.8 2094.3,871.7 C2099.6,874.7 2105.0,876.7 2110.4,879.8 C2114.6,882.3 2118.9,885.5 2123.1,888.3" fill="none" stroke="#00695c" stroke-width="2.0" stroke-linejoin="round" stroke-linecap="round"/>
<g stroke="#000" stroke-width="3.6" stroke-linecap="round" fill="none"><line x1="1968" y1="884.4" x2="2199.5" y2="924.4"/><line x1="1968" y1="1042.3" x2="2199.5" y2="924.4"/></g>
<path d="M1990.6,813.5 L2007.8,975.8 L2024.2,971.9 L1990.8,1026 L1956.8,972.6 L1973,976.8 Z" fill="#000" stroke="#000" stroke-width="2" stroke-linejoin="round"/>
<path d="M2199.5,924 L2217.5,1086 L2233.6,1082 L2199.5,1136.5 L2165.4,1082 L2181.8,1086 Z" fill="#000" stroke="#000" stroke-width="2" stroke-linejoin="round"/>
<line x1="20" y1="1138" x2="2558" y2="1138" stroke="#000" stroke-width="4" stroke-dasharray="4 8"/>
<rect x="20" y="418.6" width="2" height="32.4" fill="#72757c"/><rect x="18" y="428.5" width="6" height="19.9" fill="#6eab86" stroke="#0f4a27" stroke-width="2"/><rect x="31" y="403.2" width="2" height="33.2" fill="#72757c"/><rect x="29" y="428.5" width="6" height="2.0" fill="#e05a47" stroke="#5a0d08" stroke-width="2"/><rect x="42" y="418.6" width="2" height="16.2" fill="#72757c"/><rect x="40" y="422.0" width="6" height="8.2" fill="#6eab86" stroke="#0f4a27" stroke-width="2"/><rect x="53" y="394.3" width="2" height="26.2" fill="#72757c"/><rect x="51" y="396.6" width="6" height="22.3" fill="#6eab86" stroke="#0f4a27" stroke-width="2"/><rect x="64" y="387.5" width="2" height="54.6" fill="#72757c"/><rect x="62" y="396.9" width="6" height="36.5" fill="#e05a47" stroke="#5a0d08" stroke-width="2"/><rect x="75" y="426.3" width="2" height="19.4" fill="#72757c"/><rect x="73" y="435.8" width="6" height="4.5" fill="#e05a47" stroke="#5a0d08" stroke-width="2"/><rect x="86" y="436.0" width="2" height="6.8" fill="#72757c"/><rect x="83" y="439.6" width="8" height="2" fill="#0f4a27"/><rect x="97" y="432.3" width="2" height="10.5" fill="#72757c"/><rect x="94" y="439.6" width="8" height="2" fill="#0f4a27"/><rect x="108" y="440.4" width="2" height="11.3" fill="#72757c"/><rect x="106" y="442.2" width="6" height="7.7" fill="#e05a47" stroke="#5a0d08" stroke-width="2"/><rect x="119" y="450.1" width="2" height="29.9" fill="#72757c"/><rect x="117" y="451.9" width="6" height="25.2" fill="#e05a47" stroke="#5a0d08" stroke-width="2"/><rect x="130" y="462.3" width="2" height="20.7" fill="#72757c"/><rect x="128" y="468.6" width="6" height="8.5" fill="#6eab86" stroke="#0f4a27" stroke-width="2"/><rect x="141" y="462.3" width="2" height="23.5" fill="#72757c"/><rect x="139" y="468.6" width="6" height="12.6" fill="#e05a47" stroke="#5a0d08" stroke-width="2"/><rect x="152" y="440.9" width="2" height="46.9" fill="#72757c"/><rect x="150" y="447.9" width="6" height="33.3" fill="#6eab86" stroke="#0f4a27" stroke-width="2"/><rect x="163" y="445.3" width="2" height="19.4" fill="#72757c"/><rect x="161" y="447.1" width="6" height="10.1" fill="#e05a47" stroke="#5a0d08" stroke-width="2"/><rect x="174" y="458.2" width="2" height="38.5" fill="#72757c"/><rect x="172" y="459.7" width="6" height="12.2" fill="#e05a47" stroke="#5a0d08" stroke-width="2"/><rect x="185" y="472.3" width="2" height="35.6" fill="#72757c"/><rect x="183" y="474.3" width="6" height="26.2" fill="#e05a47" stroke="#5a0d08" stroke-width="2"/><rect x="196" y="482.0" width="2" height="30.8" fill="#72757c"/><rect x="194" y="488.4" width="6" height="12.1" fill="#6eab86" stroke="#0f4a27" stroke-width="2"/><rect x="207" y="480.1" width="2" height="18.9" fill="#72757c"/><rect x="205" y="488.7" width="6" height="2.9" fill="#e05a47" stroke="#5a0d08" stroke-width="2"/><rect x="218" y="473.1" width="2" height="21.9" fill="#72757c"/><rect x="216" y="482.4" width="6" height="9.2" fill="#6eab86" stroke="#0f4a27" stroke-width="2"/><rect x="229" y="480.1" width="2" height="43.7" fill="#72757c"/><rect x="227" y="482.4" width="6" height="33.1" fill="#e05a47" stroke="#5a0d08" stroke-width="2"/><rect x="240" y="511.2" width="2" height="13.8" fill="#72757c"/><rect x="238" y="513.5" width="6" height="2.0" fill="#6eab86" stroke="#0f4a27" stroke-width="2"/><rect x="251" y="506.3" width="2" height="12.3" fill="#72757c"/><rect x="249" y="513.5" width="6" height="3.2" fill="#e05a47" stroke="#5a0d08" stroke-width="2"/><rect x="262" y="503.1" width="2" height="22.8" fill="#72757c"/><rect x="260" y="510.2" width="6" height="6.4" fill="#6eab86" stroke="#0f4a27" stroke-width="2"/><rect x="273" y="487.4" width="2" height="28.3" fill="#72757c"/><rect x="271" y="493.5" width="6" height="14.7" fill="#6eab86" stroke="#0f4a27" stroke-width="2"/><rect x="284" y="480.4" width="2" height="17.5" fill="#72757c"/><rect x="282" y="488.7" width="6" height="2.9" fill="#6eab86" stroke="#0f4a27" stroke-width="2"/><rect x="295" y="484.1" width="2" height="23.8" fill="#72757c"/><rect x="293" y="488.7" width="6" height="6.6" fill="#e05a47" stroke="#5a0d08" stroke-width="2"/><rect x="306" y="474.4" width="2" height="25.1" fill="#72757c"/><rect x="303" y="494.9" width="8" height="2" fill="#5a0d08"/><rect x="317" y="491.1" width="2" height="10.8" fill="#72757c"/><rect x="315" y="498.6" width="6" height="1.2" fill="#e05a47" stroke="#5a0d08" stroke-width="2"/><rect x="328" y="489.3" width="2" height="11.5" fill="#72757c"/><rect x="326" y="494.5" width="6" height="4.8" fill="#6eab86" stroke="#0f4a27" stroke-width="2"/><rect x="339" y="478.8" width="2" height="18.0" fill="#72757c"/><rect x="337" y="486.7" width="6" height="5.8" fill="#6eab86" stroke="#0f4a27" stroke-width="2"/><rect x="350" y="475.2" width="2" height="20.7" fill="#72757c"/><rect x="348" y="486.7" width="6" height="1.7" fill="#e05a47" stroke="#5a0d08" stroke-width="2"/><rect x="361" y="466.3" width="2" height="27.5" fill="#72757c"/><rect x="359" y="470.6" width="6" height="17.9" fill="#6eab86" stroke="#0f4a27" stroke-width="2"/><rect x="372" y="456.6" width="2" height="16.2" fill="#72757c"/><rect x="370" y="458.4" width="6" height="10.1" fill="#6eab86" stroke="#0f4a27" stroke-width="2"/><rect x="383" y="446.3" width="2" height="16.2" fill="#72757c"/><rect x="381" y="453.3" width="6" height="3.0" fill="#6eab86" stroke="#0f4a27" stroke-width="2"/><rect x="394" y="450.4" width="2" height="8.1" fill="#72757c"/><rect x="391" y="450.9" width="8" height="2" fill="#5a0d08"/><rect x="405" y="451.5" width="2" height="7.3" fill="#72757c"/><rect x="403" y="454.6" width="6" height="2.5" fill="#e05a47" stroke="#5a0d08" stroke-width="2"/><rect x="416" y="446.3" width="2" height="19.4" fill="#72757c"/><rect x="413" y="456.6" width="8" height="2" fill="#0f4a27"/><rect x="427" y="445.5" width="2" height="17.0" fill="#72757c"/><rect x="425" y="447.6" width="6" height="9.5" fill="#6eab86" stroke="#0f4a27" stroke-width="2"/><rect x="438" y="442.3" width="2" height="20.2" fill="#72757c"/><rect x="435" y="446.9" width="8" height="2" fill="#5a0d08"/><rect x="449" y="437.4" width="2" height="14.2" fill="#72757c"/><rect x="447" y="445.4" width="6" height="2.9" fill="#6eab86" stroke="#0f4a27" stroke-width="2"/><rect x="460" y="441.1" width="2" height="18.6" fill="#72757c"/><rect x="458" y="445.4" width="6" height="8.8" fill="#e05a47" stroke="#5a0d08" stroke-width="2"/><rect x="471" y="451.2" width="2" height="5.7" fill="#72757c"/><rect x="468" y="454.0" width="8" height="2" fill="#0f4a27"/><rect x="482" y="454.4" width="2" height="4.0" fill="#72757c"/><rect x="479" y="455.8" width="8" height="2" fill="#5a0d08"/><rect x="493" y="457.2" width="2" height="28.5" fill="#72757c"/><rect x="491" y="460.6" width="6" height="17.6" fill="#e05a47" stroke="#5a0d08" stroke-width="2"/><rect x="504" y="474.3" width="2" height="15.2" fill="#72757c"/><rect x="502" y="480.5" width="6" height="3.7" fill="#e05a47" stroke="#5a0d08" stroke-width="2"/><rect x="515" y="469.0" width="2" height="23.8" fill="#72757c"/><rect x="513" y="475.3" width="6" height="8.8" fill="#6eab86" stroke="#0f4a27" stroke-width="2"/><rect x="526" y="473.0" width="2" height="40.8" fill="#72757c"/><rect x="524" y="475.3" width="6" height="35.1" fill="#e05a47" stroke="#5a0d08" stroke-width="2"/><rect x="537" y="499.3" width="2" height="14.6" fill="#72757c"/><rect x="535" y="506.4" width="6" height="4.0" fill="#6eab86" stroke="#0f4a27" stroke-width="2"/><rect x="548" y="504.3" width="2" height="5.5" fill="#72757c"/><rect x="545" y="503.8" width="8" height="2" fill="#5a0d08"/><rect x="559" y="482.3" width="2" height="26.4" fill="#72757c"/><rect x="557" y="485.4" width="6" height="19.0" fill="#6eab86" stroke="#0f4a27" stroke-width="2"/><rect x="570" y="465.3" width="2" height="23.5" fill="#72757c"/><rect x="568" y="467.2" width="6" height="16.1" fill="#6eab86" stroke="#0f4a27" stroke-width="2"/><rect x="581" y="462.0" width="2" height="17.8" fill="#72757c"/><rect x="578" y="466.4" width="8" height="2" fill="#5a0d08"/><rect x="592" y="431.3" width="2" height="37.7" fill="#72757c"/><rect x="590" y="433.2" width="6" height="34.3" fill="#6eab86" stroke="#0f4a27" stroke-width="2"/><rect x="603" y="413.1" width="2" height="20.7" fill="#72757c"/><rect x="601" y="417.4" width="6" height="14.2" fill="#6eab86" stroke="#0f4a27" stroke-width="2"/><rect x="614" y="391.3" width="2" height="34.5" fill="#72757c"/><rect x="612" y="404.4" width="6" height="11.0" fill="#6eab86" stroke="#0f4a27" stroke-width="2"/><rect x="625" y="399.0" width="2" height="9.7" fill="#72757c"/><rect x="622" y="400.9" width="8" height="2" fill="#0f4a27"/><rect x="636" y="378.0" width="2" height="25.7" fill="#72757c"/><rect x="634" y="395.2" width="6" height="6.1" fill="#6eab86" stroke="#0f4a27" stroke-width="2"/><rect x="647" y="374.0" width="2" height="23.0" fill="#72757c"/><rect x="645" y="386.3" width="6" height="6.9" fill="#6eab86" stroke="#0f4a27" stroke-width="2"/><rect x="658" y="381.1" width="2" height="34.8" fill="#72757c"/><rect x="656" y="386.3" width="6" height="23.1" fill="#e05a47" stroke="#5a0d08" stroke-width="2"/><rect x="669" y="389.2" width="2" height="23.6" fill="#72757c"/><rect x="667" y="397.5" width="6" height="11.9" fill="#6eab86" stroke="#0f4a27" stroke-width="2"/><rect x="680" y="392.1" width="2" height="30.8" fill="#72757c"/><rect x="678" y="397.5" width="6" height="9.8" fill="#e05a47" stroke="#5a0d08" stroke-width="2"/><rect x="691" y="401.3" width="2" height="103.6" fill="#72757c"/><rect x="689" y="409.6" width="6" height="66.8" fill="#e05a47" stroke="#5a0d08" stroke-width="2"/><rect x="702" y="474.3" width="2" height="30.6" fill="#72757c"/><rect x="700" y="478.4" width="6" height="17.1" fill="#e05a47" stroke="#5a0d08" stroke-width="2"/><rect x="713" y="454.4" width="2" height="50.5" fill="#72757c"/><rect x="711" y="461.4" width="6" height="34.1" fill="#6eab86" stroke="#0f4a27" stroke-width="2"/><rect x="724" y="452.3" width="2" height="18.6" fill="#72757c"/><rect x="721" y="458.0" width="8" height="2" fill="#0f4a27"/><rect x="735" y="457.2" width="2" height="44.7" fill="#72757c"/><rect x="733" y="460.6" width="6" height="15.8" fill="#e05a47" stroke="#5a0d08" stroke-width="2"/><rect x="746" y="472.2" width="2" height="27.8" fill="#72757c"/><rect x="744" y="478.4" width="6" height="16.0" fill="#e05a47" stroke="#5a0d08" stroke-width="2"/><rect x="757" y="485.2" width="2" height="38.9" fill="#72757c"/><rect x="755" y="496.4" width="6" height="21.0" fill="#e05a47" stroke="#5a0d08" stroke-width="2"/><rect x="768" y="509.3" width="2" height="49.4" fill="#72757c"/><rect x="766" y="519.7" width="6" height="12.6" fill="#e05a47" stroke="#5a0d08" stroke-width="2"/><rect x="779" y="523.4" width="2" height="10.2" fill="#72757c"/><rect x="777" y="527.6" width="6" height="4.6" fill="#6eab86" stroke="#0f4a27" stroke-width="2"/><rect x="790" y="507.4" width="2" height="28.3" fill="#72757c"/><rect x="788" y="514.7" width="6" height="11.0" fill="#6eab86" stroke="#0f4a27" stroke-width="2"/><rect x="801" y="488.3" width="2" height="35.3" fill="#72757c"/><rect x="799" y="498.5" width="6" height="14.2" fill="#6eab86" stroke="#0f4a27" stroke-width="2"/><rect x="812" y="468.4" width="2" height="55.2" fill="#72757c"/><rect x="810" y="498.5" width="6" height="17.1" fill="#e05a47" stroke="#5a0d08" stroke-width="2"/><rect x="823" y="509.3" width="2" height="26.4" fill="#72757c"/><rect x="821" y="518.7" width="6" height="3.7" fill="#e05a47" stroke="#5a0d08" stroke-width="2"/><rect x="834" y="491.2" width="2" height="32.7" fill="#72757c"/><rect x="832" y="502.5" width="6" height="19.9" fill="#6eab86" stroke="#0f4a27" stroke-width="2"/><rect x="845" y="485.5" width="2" height="19.3" fill="#72757c"/><rect x="843" y="494.6" width="6" height="5.9" fill="#6eab86" stroke="#0f4a27" stroke-width="2"/><rect x="856" y="487.0" width="2" height="8.6" fill="#72757c"/><rect x="854" y="489.6" width="6" height="3.0" fill="#6eab86" stroke="#0f4a27" stroke-width="2"/><rect x="867" y="457.2" width="2" height="33.5" fill="#72757c"/><rect x="865" y="465.5" width="6" height="21.8" fill="#6eab86" stroke="#0f4a27" stroke-width="2"/><rect x="878" y="450.2" width="2" height="19.4" fill="#72757c"/><rect x="876" y="465.5" width="6" height="2.0" fill="#e05a47" stroke="#5a0d08" stroke-width="2"/><rect x="889" y="452.2" width="2" height="31.2" fill="#72757c"/><rect x="887" y="469.5" width="6" height="7.7" fill="#e05a47" stroke="#5a0d08" stroke-width="2"/><rect x="900" y="472.4" width="2" height="35.3" fill="#72757c"/><rect x="898" y="479.6" width="6" height="21.8" fill="#e05a47" stroke="#5a0d08" stroke-width="2"/><rect x="911" y="489.1" width="2" height="44.5" fill="#72757c"/><rect x="909" y="503.5" width="6" height="12.9" fill="#e05a47" stroke="#5a0d08" stroke-width="2"/><rect x="922" y="493.1" width="2" height="24.6" fill="#72757c"/><rect x="920" y="507.4" width="6" height="9.0" fill="#6eab86" stroke="#0f4a27" stroke-width="2"/><rect x="933" y="498.3" width="2" height="9.4" fill="#72757c"/><rect x="931" y="503.5" width="6" height="1.9" fill="#6eab86" stroke="#0f4a27" stroke-width="2"/><rect x="944" y="493.5" width="2" height="13.1" fill="#72757c"/><rect x="942" y="499.8" width="6" height="1.7" fill="#6eab86" stroke="#0f4a27" stroke-width="2"/><rect x="955" y="496.7" width="2" height="46.1" fill="#72757c"/><rect x="953" y="499.5" width="6" height="32.0" fill="#e05a47" stroke="#5a0d08" stroke-width="2"/><rect x="966" y="526.3" width="2" height="74.1" fill="#72757c"/><rect x="964" y="533.5" width="6" height="42.8" fill="#e05a47" stroke="#5a0d08" stroke-width="2"/><rect x="977" y="550.3" width="2" height="50.2" fill="#72757c"/><rect x="975" y="557.6" width="6" height="18.7" fill="#6eab86" stroke="#0f4a27" stroke-width="2"/><rect x="988" y="553.4" width="2" height="35.3" fill="#72757c"/><rect x="986" y="557.6" width="6" height="20.7" fill="#e05a47" stroke="#5a0d08" stroke-width="2"/><rect x="999" y="554.3" width="2" height="44.4" fill="#72757c"/><rect x="997" y="562.4" width="6" height="15.8" fill="#6eab86" stroke="#0f4a27" stroke-width="2"/><rect x="1010" y="560.3" width="2" height="17.3" fill="#72757c"/><rect x="1008" y="562.4" width="6" height="7.1" fill="#e05a47" stroke="#5a0d08" stroke-width="2"/><rect x="1021" y="542.2" width="2" height="35.5" fill="#72757c"/><rect x="1019" y="549.7" width="6" height="19.5" fill="#6eab86" stroke="#0f4a27" stroke-width="2"/><rect x="1032" y="531.2" width="2" height="20.6" fill="#72757c"/><rect x="1030" y="538.3" width="6" height="9.2" fill="#6eab86" stroke="#0f4a27" stroke-width="2"/><rect x="1043" y="524.2" width="2" height="44.5" fill="#72757c"/><rect x="1041" y="538.3" width="6" height="24.2" fill="#e05a47" stroke="#5a0d08" stroke-width="2"/><rect x="1054" y="543.3" width="2" height="39.3" fill="#72757c"/><rect x="1052" y="564.5" width="6" height="11.0" fill="#e05a47" stroke="#5a0d08" stroke-width="2"/><rect x="1065" y="554.3" width="2" height="55.4" fill="#72757c"/><rect x="1063" y="577.5" width="6" height="16.9" fill="#e05a47" stroke="#5a0d08" stroke-width="2"/><rect x="1077" y="593.1" width="2" height="55.7" fill="#72757c"/><rect x="1075" y="596.4" width="6" height="47.0" fill="#e05a47" stroke="#5a0d08" stroke-width="2"/><rect x="1088" y="622.1" width="2" height="22.3" fill="#72757c"/><rect x="1086" y="635.4" width="6" height="8.0" fill="#6eab86" stroke="#0f4a27" stroke-width="2"/><rect x="1099" y="624.2" width="2" height="34.5" fill="#72757c"/><rect x="1097" y="635.4" width="6" height="11.0" fill="#e05a47" stroke="#5a0d08" stroke-width="2"/><rect x="1110" y="630.2" width="2" height="46.6" fill="#72757c"/><rect x="1108" y="648.7" width="6" height="18.7" fill="#e05a47" stroke="#5a0d08" stroke-width="2"/><rect x="1121" y="651.3" width="2" height="46.6" fill="#72757c"/><rect x="1119" y="661.7" width="6" height="5.8" fill="#6eab86" stroke="#0f4a27" stroke-width="2"/><rect x="1132" y="659.0" width="2" height="45.6" fill="#72757c"/><rect x="1130" y="661.7" width="6" height="11.8" fill="#e05a47" stroke="#5a0d08" stroke-width="2"/><rect x="1143" y="658.2" width="2" height="73.7" fill="#72757c"/><rect x="1141" y="675.7" width="6" height="49.8" fill="#e05a47" stroke="#5a0d08" stroke-width="2"/><rect x="1154" y="717.3" width="2" height="75.8" fill="#72757c"/><rect x="1152" y="727.5" width="6" height="13.9" fill="#e05a47" stroke="#5a0d08" stroke-width="2"/><rect x="1165" y="737.2" width="2" height="22.7" fill="#72757c"/><rect x="1163" y="743.7" width="6" height="1.7" fill="#e05a47" stroke="#5a0d08" stroke-width="2"/><rect x="1176" y="709.2" width="2" height="37.2" fill="#72757c"/><rect x="1174" y="724.5" width="6" height="21.0" fill="#6eab86" stroke="#0f4a27" stroke-width="2"/><rect x="1187" y="697.4" width="2" height="42.6" fill="#72757c"/><rect x="1185" y="708.6" width="6" height="13.9" fill="#6eab86" stroke="#0f4a27" stroke-width="2"/><rect x="1198" y="705.2" width="2" height="25.9" fill="#72757c"/><rect x="1196" y="708.6" width="6" height="7.7" fill="#e05a47" stroke="#5a0d08" stroke-width="2"/><rect x="1209" y="683.3" width="2" height="44.5" fill="#72757c"/><rect x="1207" y="685.4" width="6" height="31.2" fill="#6eab86" stroke="#0f4a27" stroke-width="2"/><rect x="1220" y="669.1" width="2" height="18.8" fill="#72757c"/><rect x="1218" y="677.5" width="6" height="5.9" fill="#6eab86" stroke="#0f4a27" stroke-width="2"/><rect x="1231" y="657.4" width="2" height="29.5" fill="#72757c"/><rect x="1229" y="677.5" width="6" height="2.0" fill="#e05a47" stroke="#5a0d08" stroke-width="2"/><rect x="1242" y="677.2" width="2" height="9.7" fill="#72757c"/><rect x="1239" y="679.2" width="8" height="2" fill="#5a0d08"/><rect x="1253" y="669.1" width="2" height="16.7" fill="#72757c"/><rect x="1251" y="682.4" width="6" height="2.0" fill="#e05a47" stroke="#5a0d08" stroke-width="2"/><rect x="1264" y="685.4" width="2" height="70.4" fill="#72757c"/><rect x="1262" y="686.4" width="6" height="40.9" fill="#e05a47" stroke="#5a0d08" stroke-width="2"/><rect x="1275" y="665.2" width="2" height="63.1" fill="#72757c"/><rect x="1273" y="677.5" width="6" height="49.8" fill="#6eab86" stroke="#0f4a27" stroke-width="2"/><rect x="1286" y="647.2" width="2" height="31.7" fill="#72757c"/><rect x="1284" y="655.5" width="6" height="20.0" fill="#6eab86" stroke="#0f4a27" stroke-width="2"/><rect x="1297" y="648.2" width="2" height="31.9" fill="#72757c"/><rect x="1295" y="655.5" width="6" height="11.8" fill="#e05a47" stroke="#5a0d08" stroke-width="2"/><rect x="1308" y="661.9" width="2" height="46.0" fill="#72757c"/><rect x="1306" y="669.4" width="6" height="25.8" fill="#e05a47" stroke="#5a0d08" stroke-width="2"/><rect x="1319" y="686.1" width="2" height="13.8" fill="#72757c"/><rect x="1316" y="694.9" width="8" height="2" fill="#5a0d08"/><rect x="1330" y="671.2" width="2" height="41.8" fill="#72757c"/><rect x="1328" y="686.4" width="6" height="10.0" fill="#6eab86" stroke="#0f4a27" stroke-width="2"/><rect x="1341" y="666.0" width="2" height="27.0" fill="#72757c"/><rect x="1338" y="683.0" width="8" height="2" fill="#0f4a27"/><rect x="1352" y="642.0" width="2" height="52.1" fill="#72757c"/><rect x="1350" y="663.6" width="6" height="18.7" fill="#6eab86" stroke="#0f4a27" stroke-width="2"/><rect x="1363" y="644.0" width="2" height="28.8" fill="#72757c"/><rect x="1361" y="663.6" width="6" height="3.7" fill="#e05a47" stroke="#5a0d08" stroke-width="2"/><rect x="1374" y="653.0" width="2" height="44.0" fill="#72757c"/><rect x="1372" y="664.6" width="6" height="2.7" fill="#6eab86" stroke="#0f4a27" stroke-width="2"/><rect x="1385" y="661.1" width="2" height="33.8" fill="#72757c"/><rect x="1383" y="664.6" width="6" height="20.7" fill="#e05a47" stroke="#5a0d08" stroke-width="2"/><rect x="1396" y="683.3" width="2" height="7.6" fill="#72757c"/><rect x="1393" y="684.9" width="8" height="2" fill="#5a0d08"/><rect x="1407" y="684.4" width="2" height="29.5" fill="#72757c"/><rect x="1405" y="687.5" width="6" height="20.2" fill="#e05a47" stroke="#5a0d08" stroke-width="2"/><rect x="1418" y="689.3" width="2" height="51.5" fill="#72757c"/><rect x="1416" y="709.7" width="6" height="16.9" fill="#e05a47" stroke="#5a0d08" stroke-width="2"/><rect x="1429" y="709.2" width="2" height="30.6" fill="#72757c"/><rect x="1427" y="713.4" width="6" height="13.2" fill="#6eab86" stroke="#0f4a27" stroke-width="2"/><rect x="1440" y="686.0" width="2" height="52.6" fill="#72757c"/><rect x="1438" y="713.4" width="6" height="15.0" fill="#e05a47" stroke="#5a0d08" stroke-width="2"/><rect x="1451" y="694.9" width="2" height="53.9" fill="#72757c"/><rect x="1449" y="730.7" width="6" height="5.6" fill="#e05a47" stroke="#5a0d08" stroke-width="2"/><rect x="1462" y="696.2" width="2" height="45.6" fill="#72757c"/><rect x="1460" y="710.5" width="6" height="25.8" fill="#6eab86" stroke="#0f4a27" stroke-width="2"/><rect x="1473" y="705.1" width="2" height="6.8" fill="#72757c"/><rect x="1470" y="707.5" width="8" height="2" fill="#0f4a27"/><rect x="1484" y="699.5" width="2" height="15.4" fill="#72757c"/><rect x="1482" y="704.8" width="6" height="1.6" fill="#6eab86" stroke="#0f4a27" stroke-width="2"/><rect x="1495" y="684.1" width="2" height="27.8" fill="#72757c"/><rect x="1492" y="702.2" width="8" height="2" fill="#5a0d08"/><rect x="1506" y="701.1" width="2" height="23.8" fill="#72757c"/><rect x="1504" y="705.3" width="6" height="10.1" fill="#e05a47" stroke="#5a0d08" stroke-width="2"/><rect x="1517" y="710.0" width="2" height="17.8" fill="#72757c"/><rect x="1514" y="712.8" width="8" height="2" fill="#0f4a27"/><rect x="1528" y="705.1" width="2" height="16.8" fill="#72757c"/><rect x="1526" y="715.4" width="6" height="3.2" fill="#e05a47" stroke="#5a0d08" stroke-width="2"/><rect x="1539" y="695.3" width="2" height="29.6" fill="#72757c"/><rect x="1536" y="716.9" width="8" height="2" fill="#0f4a27"/><rect x="1550" y="711.4" width="2" height="7.4" fill="#72757c"/><rect x="1548" y="713.4" width="6" height="4.2" fill="#6eab86" stroke="#0f4a27" stroke-width="2"/><rect x="1561" y="710.3" width="2" height="6.5" fill="#72757c"/><rect x="1558" y="709.9" width="8" height="2" fill="#0f4a27"/><rect x="1572" y="686.0" width="2" height="37.7" fill="#72757c"/><rect x="1570" y="712.4" width="6" height="6.1" fill="#e05a47" stroke="#5a0d08" stroke-width="2"/><rect x="1583" y="696.1" width="2" height="27.7" fill="#72757c"/><rect x="1581" y="707.8" width="6" height="11.6" fill="#6eab86" stroke="#0f4a27" stroke-width="2"/><rect x="1594" y="699.3" width="2" height="20.7" fill="#72757c"/><rect x="1592" y="707.8" width="6" height="6.7" fill="#e05a47" stroke="#5a0d08" stroke-width="2"/><rect x="1605" y="702.2" width="2" height="15.7" fill="#72757c"/><rect x="1603" y="703.5" width="6" height="11.0" fill="#6eab86" stroke="#0f4a27" stroke-width="2"/><rect x="1616" y="680.4" width="2" height="26.2" fill="#72757c"/><rect x="1614" y="691.4" width="6" height="10.1" fill="#6eab86" stroke="#0f4a27" stroke-width="2"/><rect x="1627" y="682.3" width="2" height="14.6" fill="#72757c"/><rect x="1625" y="684.6" width="6" height="4.8" fill="#6eab86" stroke="#0f4a27" stroke-width="2"/><rect x="1638" y="671.1" width="2" height="12.8" fill="#72757c"/><rect x="1636" y="675.4" width="6" height="7.2" fill="#6eab86" stroke="#0f4a27" stroke-width="2"/><rect x="1649" y="641.0" width="2" height="33.7" fill="#72757c"/><rect x="1647" y="651.4" width="6" height="22.0" fill="#6eab86" stroke="#0f4a27" stroke-width="2"/><rect x="1660" y="645.1" width="2" height="32.1" fill="#72757c"/><rect x="1657" y="649.0" width="8" height="2" fill="#5a0d08"/><rect x="1671" y="652.0" width="2" height="31.9" fill="#72757c"/><rect x="1669" y="653.5" width="6" height="22.1" fill="#e05a47" stroke="#5a0d08" stroke-width="2"/><rect x="1682" y="673.4" width="2" height="23.5" fill="#72757c"/><rect x="1679" y="677.1" width="8" height="2" fill="#5a0d08"/><rect x="1693" y="669.0" width="2" height="24.0" fill="#72757c"/><rect x="1691" y="680.6" width="6" height="2.9" fill="#e05a47" stroke="#5a0d08" stroke-width="2"/><rect x="1704" y="682.3" width="2" height="3.7" fill="#72757c"/><rect x="1701" y="682.9" width="8" height="2" fill="#5a0d08"/><rect x="1715" y="677.1" width="2" height="11.0" fill="#72757c"/><rect x="1713" y="681.4" width="6" height="3.7" fill="#6eab86" stroke="#0f4a27" stroke-width="2"/><rect x="1726" y="665.0" width="2" height="24.0" fill="#72757c"/><rect x="1723" y="677.9" width="8" height="2" fill="#0f4a27"/><rect x="1737" y="624.0" width="2" height="54.4" fill="#72757c"/><rect x="1735" y="636.4" width="6" height="40.3" fill="#6eab86" stroke="#0f4a27" stroke-width="2"/><rect x="1748" y="610.0" width="2" height="35.8" fill="#72757c"/><rect x="1746" y="621.6" width="6" height="12.7" fill="#6eab86" stroke="#0f4a27" stroke-width="2"/><rect x="1759" y="618.1" width="2" height="19.6" fill="#72757c"/><rect x="1757" y="621.6" width="6" height="10.6" fill="#e05a47" stroke="#5a0d08" stroke-width="2"/><rect x="1770" y="631.2" width="2" height="14.6" fill="#72757c"/><rect x="1767" y="631.9" width="8" height="2" fill="#5a0d08"/><rect x="1781" y="633.5" width="2" height="5.0" fill="#72757c"/><rect x="1779" y="635.5" width="6" height="1.9" fill="#e05a47" stroke="#5a0d08" stroke-width="2"/><rect x="1792" y="634.3" width="2" height="18.0" fill="#72757c"/><rect x="1790" y="639.5" width="6" height="11.8" fill="#e05a47" stroke="#5a0d08" stroke-width="2"/><rect x="1803" y="652.6" width="2" height="17.0" fill="#72757c"/><rect x="1801" y="653.6" width="6" height="8.8" fill="#e05a47" stroke="#5a0d08" stroke-width="2"/><rect x="1814" y="661.2" width="2" height="50.5" fill="#72757c"/><rect x="1812" y="664.6" width="6" height="41.7" fill="#e05a47" stroke="#5a0d08" stroke-width="2"/><rect x="1825" y="684.2" width="2" height="34.8" fill="#72757c"/><rect x="1823" y="697.6" width="6" height="8.7" fill="#6eab86" stroke="#0f4a27" stroke-width="2"/><rect x="1836" y="687.1" width="2" height="18.9" fill="#72757c"/><rect x="1833" y="693.9" width="8" height="2" fill="#0f4a27"/><rect x="1847" y="678.2" width="2" height="26.5" fill="#72757c"/><rect x="1844" y="692.8" width="8" height="2" fill="#0f4a27"/><rect x="1858" y="691.1" width="2" height="8.1" fill="#72757c"/><rect x="1856" y="695.7" width="6" height="2.5" fill="#e05a47" stroke="#5a0d08" stroke-width="2"/><rect x="1869" y="698.4" width="2" height="33.5" fill="#72757c"/><rect x="1867" y="700.2" width="6" height="24.2" fill="#e05a47" stroke="#5a0d08" stroke-width="2"/><rect x="1880" y="702.3" width="2" height="24.3" fill="#72757c"/><rect x="1878" y="708.3" width="6" height="16.1" fill="#6eab86" stroke="#0f4a27" stroke-width="2"/><rect x="1891" y="695.2" width="2" height="23.8" fill="#72757c"/><rect x="1889" y="699.4" width="6" height="6.9" fill="#6eab86" stroke="#0f4a27" stroke-width="2"/><rect x="1902" y="685.3" width="2" height="16.7" fill="#72757c"/><rect x="1899" y="696.9" width="8" height="2" fill="#0f4a27"/><rect x="1913" y="697.5" width="2" height="64.1" fill="#72757c"/><rect x="1911" y="699.4" width="6" height="48.0" fill="#e05a47" stroke="#5a0d08" stroke-width="2"/><rect x="1924" y="747.3" width="2" height="39.3" fill="#72757c"/><rect x="1922" y="749.4" width="6" height="2.0" fill="#e05a47" stroke="#5a0d08" stroke-width="2"/><rect x="1935" y="752.5" width="2" height="99.3" fill="#72757c"/><rect x="1933" y="753.5" width="6" height="60.9" fill="#e05a47" stroke="#5a0d08" stroke-width="2"/><rect x="1946" y="807.0" width="2" height="44.0" fill="#72757c"/><rect x="1944" y="816.4" width="6" height="19.2" fill="#e05a47" stroke="#5a0d08" stroke-width="2"/><rect x="1957" y="807.0" width="2" height="58.0" fill="#72757c"/><rect x="1955" y="816.4" width="6" height="19.2" fill="#6eab86" stroke="#0f4a27" stroke-width="2"/><rect x="1968" y="809.1" width="2" height="76.4" fill="#72757c"/><rect x="1966" y="816.4" width="6" height="34.1" fill="#e05a47" stroke="#5a0d08" stroke-width="2"/><rect x="1979" y="836.1" width="2" height="64.8" fill="#72757c"/><rect x="1977" y="852.5" width="6" height="31.2" fill="#e05a47" stroke="#5a0d08" stroke-width="2"/><rect x="1990" y="882.3" width="2" height="150.1" fill="#72757c"/><rect x="1988" y="885.7" width="6" height="138.5" fill="#e05a47" stroke="#5a0d08" stroke-width="2"/><rect x="2001" y="901.2" width="2" height="166.7" fill="#72757c"/><rect x="1999" y="917.8" width="6" height="106.5" fill="#6eab86" stroke="#0f4a27" stroke-width="2"/><rect x="2012" y="902.0" width="2" height="58.0" fill="#72757c"/><rect x="2010" y="917.8" width="6" height="14.8" fill="#e05a47" stroke="#5a0d08" stroke-width="2"/><rect x="2023" y="895.2" width="2" height="43.7" fill="#72757c"/><rect x="2021" y="921.6" width="6" height="11.0" fill="#6eab86" stroke="#0f4a27" stroke-width="2"/><rect x="2034" y="905.3" width="2" height="41.8" fill="#72757c"/><rect x="2031" y="920.5" width="8" height="2" fill="#5a0d08"/><rect x="2045" y="917.1" width="2" height="34.8" fill="#72757c"/><rect x="2043" y="923.7" width="6" height="14.7" fill="#e05a47" stroke="#5a0d08" stroke-width="2"/><rect x="2056" y="934.1" width="2" height="48.1" fill="#72757c"/><rect x="2054" y="940.7" width="6" height="21.8" fill="#e05a47" stroke="#5a0d08" stroke-width="2"/><rect x="2067" y="945.1" width="2" height="45.6" fill="#72757c"/><rect x="2065" y="965.5" width="6" height="8.8" fill="#e05a47" stroke="#5a0d08" stroke-width="2"/><rect x="2078" y="931.2" width="2" height="49.9" fill="#72757c"/><rect x="2076" y="940.7" width="6" height="33.6" fill="#6eab86" stroke="#0f4a27" stroke-width="2"/><rect x="2089" y="916.3" width="2" height="24.6" fill="#72757c"/><rect x="2087" y="927.8" width="6" height="11.0" fill="#6eab86" stroke="#0f4a27" stroke-width="2"/><rect x="2100" y="911.1" width="2" height="38.9" fill="#72757c"/><rect x="2098" y="927.8" width="6" height="10.5" fill="#e05a47" stroke="#5a0d08" stroke-width="2"/><rect x="2111" y="922.3" width="2" height="37.7" fill="#72757c"/><rect x="2108" y="937.0" width="8" height="2" fill="#0f4a27"/><rect x="2122" y="934.1" width="2" height="35.9" fill="#72757c"/><rect x="2120" y="939.6" width="6" height="14.8" fill="#e05a47" stroke="#5a0d08" stroke-width="2"/>
<line x1="20" y1="955" x2="2451" y2="955" stroke="#d9513f" stroke-width="2" stroke-dasharray="2 4"/>
</g>
<rect x="20" y="286" width="2670" height="2" fill="#131722"/>
<rect x="20" y="1452" width="2670" height="2" fill="#4c4d51"/>
<g font-size="22.6" fill="#555555">
<text x="2575.5" y="119.8" textLength="62.0" lengthAdjust="spacing" >60.00</text>
<text x="2575.5" y="192.8" textLength="62.0" lengthAdjust="spacing" >40.00</text>
<text x="2575.5" y="264.8" textLength="62.0" lengthAdjust="spacing" >20.00</text>
<text x="2575.5" y="388.9" textLength="89.5" lengthAdjust="spacing" >125,000</text>
<text x="2575.5" y="465.9" textLength="89.5" lengthAdjust="spacing" >115,000</text>
<text x="2575.5" y="533.9" textLength="89.5" lengthAdjust="spacing" >107,000</text>
<text x="2575.5" y="605.9" textLength="75.5" lengthAdjust="spacing" >99,000</text>
<text x="2575.5" y="684.9" textLength="75.5" lengthAdjust="spacing" >91,000</text>
<text x="2575.5" y="764.9" textLength="75.5" lengthAdjust="spacing" >83,500</text>
<text x="2575.5" y="821.9" textLength="75.5" lengthAdjust="spacing" >78,500</text>
<text x="2575.5" y="895.9" textLength="75.5" lengthAdjust="spacing" >72,500</text>
<text x="2575.5" y="1033.9" textLength="75.5" lengthAdjust="spacing" >62,500</text>
<text x="2575.5" y="1095.9" textLength="75.5" lengthAdjust="spacing" >58,500</text>
<text x="2575.5" y="1161.9" textLength="75.5" lengthAdjust="spacing" >54,500</text>
<text x="2575.5" y="1232.9" textLength="75.5" lengthAdjust="spacing" >50,500</text>
<text x="2575.5" y="1289.9" textLength="75.5" lengthAdjust="spacing" >47,500</text>
<text x="2575.5" y="1346.9" textLength="75.5" lengthAdjust="spacing" >44,700</text>
<text x="2575.5" y="1405.9" textLength="75.5" lengthAdjust="spacing" >41,950</text>
</g>
<g font-size="22.6" fill="#555555">
<text x="243.5" y="1487.9" textLength="39.5" lengthAdjust="spacing" >Sep</text>
<text x="574.9" y="1487.9" textLength="36.7" lengthAdjust="spacing" >Oct</text>
<text x="915.0" y="1487.9" textLength="38.5" lengthAdjust="spacing" >Nov</text>
<text x="1245.8" y="1487.9" textLength="39.0" lengthAdjust="spacing" >Dec</text>
<text x="1928.2" y="1487.9" textLength="38.2" lengthAdjust="spacing" >Feb</text>
<text x="2235.7" y="1487.9" textLength="39.2" lengthAdjust="spacing" >Mar</text>
<text x="1577.0" y="1487.9" textLength="56.0" lengthAdjust="spacing" font-size="23.2" font-weight="bold" >2026</text>
</g>
<rect x="2566.5" y="296.5" width="115" height="50.5" rx="8" fill="#ffffff"/>
<text x="2584" y="329.5" font-size="22.6" fill="#131722" letter-spacing="0.9">USD</text>
<path d="M2455,939.3 H2558 V970.8 H2455 a4,4 0 0 1 -4,-4 V943.3 a4,4 0 0 1 4,-4 Z" fill="#d95240"/>
<path d="M2560,939.3 H2678.8 a4,4 0 0 1 4,4 V992.8 a4,4 0 0 1 -4,4 H2560 Z" fill="#d95240"/>
<text x="2460.0" y="962.8" textLength="89.9" lengthAdjust="spacing" fill="#ffffff" font-size="22" >BTCUSD</text>
<text x="2575.5" y="961" textLength="75.9" lengthAdjust="spacing" fill="#ffffff" font-size="22.6" >67,639</text>
<text x="2575.5" y="987.3" textLength="96.4" lengthAdjust="spacing" fill="#ffffff" font-size="22.6" fill-opacity="0.78">07:47:03</text>
<path d="M2560,1122.2 H2658.9 a4,4 0 0 1 4,4 V1149.8 a4,4 0 0 1 -4,4 H2560 Z" fill="#000000"/>
<text x="2575.7" y="1144.3" textLength="76.2" lengthAdjust="spacing" fill="#ffffff" font-size="22.6" >55,589</text>
<rect x="2558" y="54" width="2" height="1453.5" fill="#4c4d51"/>
<g font-size="24.8" fill="#4b4b4d">
<text x="35.9" y="93.7" textLength="161.4" lengthAdjust="spacing" >RSI (14, close)</text>
<text x="211.7" y="93.7" textLength="66.6" lengthAdjust="spacing" fill="#6f4ec4" >34.69</text>
<text x="291.3" y="93.7" textLength="62.2" lengthAdjust="spacing" fill="#fdd835" >31.58</text>
<text x="36.0" y="328.2" textLength="388.3" lengthAdjust="spacing" >Bitcoin / U.S. Dollar · 1D · Bitstamp</text>
<text x="437.2" y="328.2" textLength="99.7" lengthAdjust="spacing" >O<tspan fill="#5a0d08">68,867</tspan></text>
<text x="549.9" y="328.2" textLength="98.6" lengthAdjust="spacing" >H<tspan fill="#5a0d08">69,205</tspan></text>
<text x="662.1" y="328.2" textLength="93.3" lengthAdjust="spacing" >L<tspan fill="#5a0d08">66,557</tspan></text>
<text x="768.4" y="328.2" textLength="95.9" lengthAdjust="spacing" >C<tspan fill="#5a0d08">67,639</tspan></text>
<text x="877.1" y="328.2" textLength="184.9" lengthAdjust="spacing" fill="#5a0d08" >−1,228 (−1.78%)</text>
<text x="36.0" y="361.9" textLength="178.9" lengthAdjust="spacing" >EMA (50, close)</text>
<text x="228.8" y="361.9" textLength="77.9" lengthAdjust="spacing" fill="#f23645" >80,138</text>
<text x="36.0" y="396" textLength="193.5" lengthAdjust="spacing" >EMA (200, close)</text>
<text x="244.0" y="396" textLength="79.5" lengthAdjust="spacing" fill="#2962ff" >93,597</text>
<text x="36.0" y="430" textLength="103.5" lengthAdjust="spacing" >Vol · BTC</text>
<text x="152.7" y="430" textLength="66.6" lengthAdjust="spacing" fill="#ef5350" >2.21K</text>
<text x="36.0" y="463.8" textLength="178.9" lengthAdjust="spacing" >EMA (20, close)</text>
<text x="228.4" y="463.8" textLength="76.1" lengthAdjust="spacing" fill="#00695c" >72,707</text>
</g>
<text x="20.0" y="40" textLength="774.7" lengthAdjust="spacing" fill="#101114" font-size="26.3" >bitcoinwallah created with TradingView.com, Feb 17, 2026 16:12 UTC</text>
<g fill="#0f0f0f"><path d="M24,1552.3 H47.9 V1581.7 H35.9 V1564.2 H24 Z"/><circle cx="57.8" cy="1558.3" r="6.1"/><path d="M68.6,1552.3 H83.9 L72.4,1581.7 H58.1 Z"/><text x="97.3" y="1581.7" textLength="243.8" lengthAdjust="spacing" font-size="42" font-weight="bold" stroke="#0f0f0f" stroke-width="0.6">TradingView</text></g>
</svg>
</body></html>
